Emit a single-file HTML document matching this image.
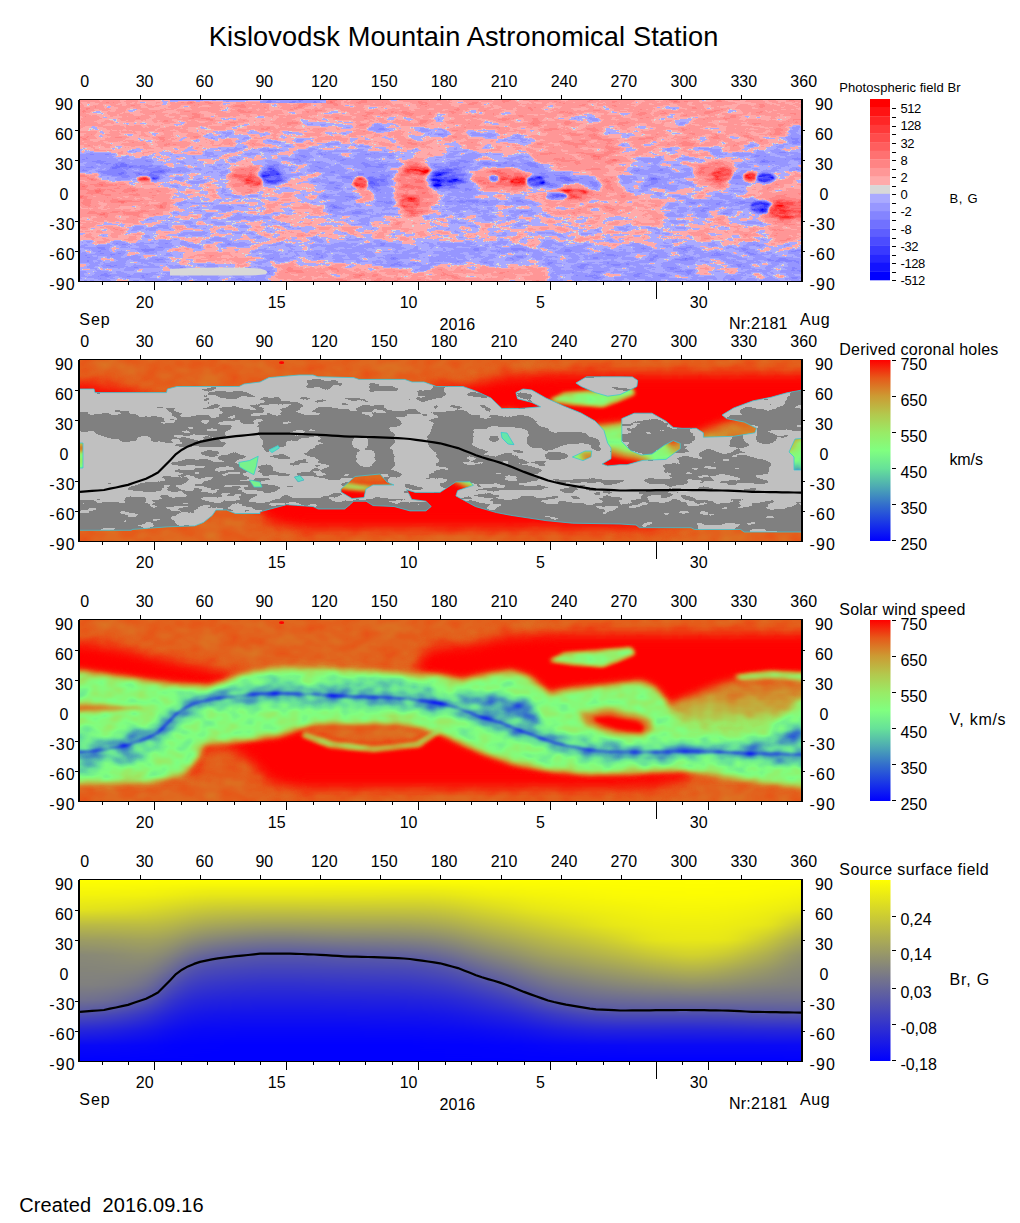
<!DOCTYPE html>
<html><head><meta charset="utf-8"><title>Kislovodsk Mountain Astronomical Station</title>
<style>
html,body{margin:0;padding:0;background:#fff;}
svg{display:block;font-family:'Liberation Sans',sans-serif;}
text{fill:#000;font-family:'Liberation Sans',sans-serif;}
</style></head><body>
<svg width="1020" height="1223" viewBox="0 0 1020 1223">
<rect width="1020" height="1223" fill="#fff"/>

<svg x="80" y="100" width="721" height="181" viewBox="0 0 721 181" preserveAspectRatio="none" overflow="hidden">
<defs>
<linearGradient id="p1base" gradientUnits="userSpaceOnUse" x1="0" y1="0" x2="0" y2="181">
<stop offset="0" stop-color="#999999"/><stop offset="0.24" stop-color="#969696"/><stop offset="0.31" stop-color="#838383"/>
<stop offset="0.75" stop-color="#858585"/><stop offset="0.80" stop-color="#696969"/><stop offset="1" stop-color="#676767"/>
</linearGradient>
<filter id="p1f" x="0" y="0" width="100%" height="100%" color-interpolation-filters="sRGB">
<feTurbulence type="fractalNoise" baseFrequency="0.065 0.19" numOctaves="3" seed="7" result="n"/>
<feColorMatrix in="n" type="matrix" values="1 0 0 0 0 1 0 0 0 0 1 0 0 0 0 0 0 0 0 1" result="ng"/>
<feComposite in="SourceGraphic" in2="ng" operator="arithmetic" k1="0" k2="1" k3="0.44" k4="-0.22" result="f"/>
<feComponentTransfer in="f"><feFuncR type="discrete" tableValues="0 0 0.07 0.07 0.15 0.15 0.15 0.22 0.22 0.22 0.3 0.3 0.3 0.3 0.37 0.37 0.37 0.37 0.37 0.44 0.44 0.44 0.44 0.44 0.44 0.52 0.52 0.52 0.52 0.52 0.52 0.52 0.52 0.59 0.59 0.59 0.59 0.59 0.59 0.59 0.59 0.59 0.59 0.67 0.67 0.67 0.67 0.67 0.67 0.67 0.85 1 1 1 1 1 1 1 1 1 1 1 1 1 1 1 1 1 1 1 1 1 1 1 1 1 1 1 1 1 1 1 1 1 1 1 1 1 1 1 1 1 1 1 1 1 1 1 1 1 1"/><feFuncG type="discrete" tableValues="0 0 0.07 0.07 0.15 0.15 0.15 0.22 0.22 0.22 0.3 0.3 0.3 0.3 0.37 0.37 0.37 0.37 0.37 0.44 0.44 0.44 0.44 0.44 0.44 0.52 0.52 0.52 0.52 0.52 0.52 0.52 0.52 0.59 0.59 0.59 0.59 0.59 0.59 0.59 0.59 0.59 0.59 0.67 0.67 0.67 0.67 0.67 0.67 0.67 0.85 0.67 0.67 0.67 0.67 0.67 0.67 0.67 0.59 0.59 0.59 0.59 0.59 0.59 0.59 0.59 0.59 0.59 0.52 0.52 0.52 0.52 0.52 0.52 0.52 0.52 0.44 0.44 0.44 0.44 0.44 0.44 0.37 0.37 0.37 0.37 0.37 0.3 0.3 0.3 0.3 0.22 0.22 0.22 0.15 0.15 0.15 0.07 0.07 0 0"/><feFuncB type="discrete" tableValues="1 1 1 1 1 1 1 1 1 1 1 1 1 1 1 1 1 1 1 1 1 1 1 1 1 1 1 1 1 1 1 1 1 1 1 1 1 1 1 1 1 1 1 1 1 1 1 1 1 1 0.85 0.67 0.67 0.67 0.67 0.67 0.67 0.67 0.59 0.59 0.59 0.59 0.59 0.59 0.59 0.59 0.59 0.59 0.52 0.52 0.52 0.52 0.52 0.52 0.52 0.52 0.44 0.44 0.44 0.44 0.44 0.44 0.37 0.37 0.37 0.37 0.37 0.3 0.3 0.3 0.3 0.22 0.22 0.22 0.15 0.15 0.15 0.07 0.07 0 0"/></feComponentTransfer>
</filter>
</defs><g filter="url(#p1f)"><g id="p1field"><rect x="-30" y="-30" width="781" height="241" fill="url(#p1base)"/>
<g filter="url(#b6)"><ellipse cx="16.7649" cy="132.354" rx="35.5" ry="10.1" fill="#919191"/><ellipse cx="178.237" cy="110.295" rx="103.5" ry="35.5" fill="#868686"/><ellipse cx="257.65" cy="60.0007" rx="69.0" ry="14.2" fill="#666666"/><ellipse cx="142.943" cy="67.942" rx="62.9" ry="17.3" fill="#747474"/><ellipse cx="280.592" cy="93.5305" rx="42.6" ry="28.4" fill="#616161"/><ellipse cx="68.8243" cy="114.707" rx="26.4" ry="14.2" fill="#636363"/><ellipse cx="138.531" cy="119.119" rx="51.8" ry="25.4" fill="#777777"/><ellipse cx="330.004" cy="129.707" rx="30.4" ry="11.2" fill="#919191"/><ellipse cx="171.178" cy="37.0593" rx="62.9" ry="18.3" fill="#939393"/><ellipse cx="499.798" cy="76.0927" rx="50.9" ry="46.8" fill="#a3a3a3"/><ellipse cx="528.112" cy="120.333" rx="91.6" ry="24.4" fill="#959595"/><ellipse cx="701.532" cy="110.6" rx="30.5" ry="35.6" fill="#9e9e9e"/><ellipse cx="376.811" cy="73.7922" rx="27.5" ry="21.8" fill="#545454"/><ellipse cx="406.01" cy="107.592" rx="61.1" ry="14.7" fill="#6b6b6b"/><ellipse cx="574.121" cy="76.9775" rx="38.7" ry="14.0" fill="#666666"/><ellipse cx="694.454" cy="59.2815" rx="38.7" ry="12.0" fill="#616161"/><ellipse cx="641.366" cy="115.024" rx="59.0" ry="19.1" fill="#616161"/><ellipse cx="480.333" cy="130.065" rx="146.5" ry="13.2" fill="#808080"/><ellipse cx="643.136" cy="129.181" rx="40.7" ry="14.2" fill="#8f8f8f"/></g>
<g filter="url(#b3)"><polygon points="-14.1178,68.8243 42.3534,74.8244 88.2363,84.001 92.4717,116.472 42.3534,124.237 -14.1178,120.707" fill="#9e9e9e" /><polygon points="-14.1178,52.2359 42.3534,55.7654 88.9422,66.3537 88.9422,84.001 42.3534,76.2362 -14.1178,70.5891" fill="#5e5e5e" /><polygon points="398.931,61.9359 448.48,56.6271 466.176,69.0143 515.725,76.0927 522.803,88.4799 466.176,90.6034 444.941,76.4466 402.47,70.7839" fill="#4f4f4f" /><polygon points="190.59,165.884 218.826,160.59 282.356,165.884 367.063,172.943 367.063,190.59 197.649,190.59" fill="#9c9c9c" /><polygon points="352.922,165.634 466.176,164.573 469.715,191.117 352.922,191.117" fill="#999999" /><ellipse cx="19.412" cy="86.4716" rx="34.5" ry="15.0" fill="#ababab"/><ellipse cx="51.53" cy="72.3538" rx="34.9" ry="8.5" fill="#454545"/><ellipse cx="167.649" cy="77.648" rx="19.1" ry="13.0" fill="#bdbdbd"/><ellipse cx="335.298" cy="88.2363" rx="21.1" ry="29.2" fill="#b8b8b8"/><ellipse cx="285.886" cy="97.06" rx="8.9" ry="11.0" fill="#a3a3a3"/><ellipse cx="191.473" cy="75.8832" rx="15.2" ry="10.1" fill="#3d3d3d"/><ellipse cx="295.945" cy="82.0598" rx="13.6" ry="7.9" fill="#404040"/><ellipse cx="357.357" cy="79.4127" rx="11.2" ry="11.0" fill="#333333"/><ellipse cx="422.29" cy="78.7471" rx="30.9" ry="12.0" fill="#bdbdbd"/><ellipse cx="492.72" cy="92.9039" rx="19.1" ry="7.9" fill="#c2c2c2"/><ellipse cx="636.057" cy="73.4383" rx="21.2" ry="12.0" fill="#bdbdbd"/><ellipse cx="704.187" cy="109.715" rx="27.5" ry="13.0" fill="#c7c7c7"/><ellipse cx="659.062" cy="78.7471" rx="11.0" ry="7.9" fill="#4f4f4f"/><ellipse cx="367.432" cy="78.7471" rx="16.7" ry="10.0" fill="#383838"/><ellipse cx="573.237" cy="80.8706" rx="7.1" ry="3.5" fill="#383838"/><ellipse cx="150.002" cy="34.9416" rx="30.4" ry="3.7" fill="#696969"/><ellipse cx="201.179" cy="40.9417" rx="28.4" ry="3.2" fill="#696969"/><ellipse cx="165.884" cy="51.53" rx="36.5" ry="3.2" fill="#696969"/><ellipse cx="247.062" cy="24.7062" rx="24.4" ry="4.1" fill="#696969"/><ellipse cx="303.533" cy="29.118" rx="16.2" ry="5.1" fill="#696969"/><ellipse cx="344.122" cy="33.5298" rx="18.3" ry="4.1" fill="#696969"/><ellipse cx="506.877" cy="18.2269" rx="14.2" ry="3.1" fill="#636363"/><ellipse cx="597.126" cy="22.12" rx="12.2" ry="3.5" fill="#636363"/><ellipse cx="408.664" cy="35.392" rx="17.3" ry="4.5" fill="#636363"/><ellipse cx="438.747" cy="40.7008" rx="15.3" ry="4.5" fill="#636363"/><ellipse cx="544.038" cy="33.4454" rx="20.4" ry="2.6" fill="#696969"/><ellipse cx="361.77" cy="30.0832" rx="6.1" ry="10.2" fill="#666666"/><ellipse cx="636.057" cy="52.2031" rx="8.1" ry="5.5" fill="#636363"/><ellipse cx="715.689" cy="38.0464" rx="10.2" ry="9.6" fill="#636363"/><ellipse cx="134.119" cy="157.061" rx="48.7" ry="10.1" fill="#8f8f8f"/><ellipse cx="634.288" cy="168.997" rx="22.4" ry="5.1" fill="#949494"/><ellipse cx="678.882" cy="173.421" rx="8.5" ry="4.1" fill="#949494"/></g>
<g filter="url(#b1)"><ellipse cx="73.0597" cy="77.295" rx="7.0" ry="3.0" fill="#1a1a1a"/><ellipse cx="64.236" cy="79.0598" rx="7.0" ry="2.6" fill="#f5f5f5"/><ellipse cx="173.649" cy="81.1774" rx="8.9" ry="5.9" fill="#e0e0e0"/><ellipse cx="191.473" cy="76.2362" rx="10.2" ry="7.4" fill="#242424"/><ellipse cx="336.71" cy="70.5891" rx="13.3" ry="5.9" fill="#dbdbdb"/><ellipse cx="330.004" cy="102.354" rx="10.0" ry="8.2" fill="#dbdbdb"/><ellipse cx="280.592" cy="82.9422" rx="7.8" ry="5.9" fill="#ebebeb"/><ellipse cx="295.945" cy="82.5892" rx="8.7" ry="5.6" fill="#2b2b2b"/><ellipse cx="357.357" cy="79.4127" rx="6.5" ry="8.2" fill="#1a1a1a"/><ellipse cx="438.57" cy="81.4015" rx="8.9" ry="4.8" fill="#fafafa"/><ellipse cx="421.936" cy="76.0927" rx="9.3" ry="4.1" fill="#d9d9d9"/><ellipse cx="414.15" cy="78.7471" rx="4.8" ry="3.2" fill="#404040"/><ellipse cx="455.735" cy="81.4015" rx="9.5" ry="5.9" fill="#0f0f0f"/><ellipse cx="493.605" cy="93.0809" rx="13.9" ry="4.8" fill="#dbdbdb"/><ellipse cx="476.793" cy="95.9122" rx="11.1" ry="3.7" fill="#2e2e2e"/><ellipse cx="642.428" cy="73.9692" rx="10.4" ry="7.1" fill="#d9d9d9"/><ellipse cx="670.388" cy="76.9775" rx="7.1" ry="5.0" fill="#f0f0f0"/><ellipse cx="685.606" cy="77.8623" rx="9.7" ry="4.8" fill="#0f0f0f"/><ellipse cx="681.89" cy="107.061" rx="11.7" ry="6.9" fill="#1a1a1a"/><ellipse cx="706.841" cy="110.246" rx="18.6" ry="8.7" fill="#e0e0e0"/><ellipse cx="368.848" cy="78.7471" rx="9.3" ry="6.5" fill="#262626"/></g>
<g filter="url(#b2)"><rect x="-10" y="-10" width="99.5" height="54" fill="#939393"/><rect x="-10" y="146" width="99.5" height="44" fill="#6b6b6b"/></g>
<rect x="180" y="-2" width="66" height="5" fill="#616161"/><rect x="90" y="-2" width="90" height="3.5" fill="#616161"/></g></g><path d="M90,175.5 L90,169 Q140,166.5 180,168.5 Q190,171 186,174 Q175,176 160,175.5 Z" fill="#d8d8d8"/>
</svg>
<svg x="80" y="360" width="721" height="181" viewBox="0 0 721 181" preserveAspectRatio="none" overflow="hidden">
<defs><clipPath id="p2clip"><path d="M-5,29 L14,29 L15,32.6 L86.5,32.6 L87.4,29 L97,26.5 L159,26.5 L164,24 L180,22 L189,17.6 L219,15 L233,15 L238,16.8 L273.5,17.6 L279,19.4 L324.7,19.4 L332,22 L344,22 L356.5,26.5 L383,26.5 L395.3,30.9 L411,38 L421.8,48.5 L439.4,48.5 L460.6,46.8 L451.8,42.4 L437.6,38.8 L435.9,32.6 L443,29 L451.8,30 L465.9,38 L483.5,45.9 L501,53 L515,60.9 L524,70.6 L527.6,83 L531,88 L531,98.8 L522,104 L527.6,105.9 L540,104.7 L547,104.7 L563,100.3 L586,99.4 L600.3,88.7 L600.3,83.4 L593.2,80.7 L584.4,85.2 L572,94 L561.3,95 L550.6,90.5 L541.8,81.6 L541.8,58.6 L554.2,53.2 L572,53.2 L586,61.2 L593.2,67.4 L602,68.3 L616.3,68.3 L623.4,72.8 L623.4,77.2 L653.6,76.3 L674.9,72.8 L676.6,68.3 L664.2,62 L646.5,58.6 L642,55 L653.6,48 L673,40.8 L690.8,37.3 L706.8,32.8 L726,29.3 L726,78 L715,79 L709,92 L714,97 L714,110 L726,110 L726,172 L664.2,172 L660.7,169.5 L614.5,169.5 L611,167.7 L559.5,167.7 L556,165 L540,164 L492.4,163.2 L465.9,160.6 L430.6,155.3 L416.5,152.6 L395.3,146.5 L375.9,135.9 L377.6,130.6 L393.5,125.3 L390,121.8 L375.9,121.8 L360,132.4 L335.3,132.4 L326.5,129.7 L328.2,132.4 L331.8,139.4 L345.9,141.2 L351.2,146.5 L345.9,150.9 L330,150.9 L314,146.5 L293,145.6 L286,141.2 L273.5,141.2 L270,144.7 L264.7,149 L238.2,149 L233,146.5 L206.5,144.7 L180,151.8 L180,153.5 L155.3,153.5 L146.5,150 L135.9,150 L132.4,155.3 L123.5,162.4 L114.7,165.9 L88.2,166.8 L53,169.4 L51,170.3 L-5,170.3ZM495.9,23 L506.5,16.8 L540,16.8 L552.4,16.9 L557.7,20.4 L556.9,26.6 L540,34.6 L527.6,36.2 L515.3,32.6 L501.2,26.5ZM158.8,102.4 L169.4,100.6 L178.2,96.2 L176.5,105.9 L173.8,114.7 L164,109.4 L159.7,106.8ZM169.4,120 L180,122 L182,127 L174,127ZM261,129 L275,116.5 L300,114 L307,122 L314,125 L293,125 L286,129 L284,137.6 L272,138.5 L261,132ZM189,90 L198,85.6 L199.4,88 L192,92.6ZM214.4,117 L220,115.6 L224,120 L218,121.8ZM421,72.4 L427,73 L434,84.7 L428,84 L422,78ZM492.4,97 L505,91 L511.8,91 L511,97 L503,100.6ZM-5,83 L3,83 L3,108 L-5,108Z" clip-rule="evenodd"/></clipPath>
<filter id="p2f" x="0" y="0" width="100%" height="100%" color-interpolation-filters="sRGB">
<feTurbulence type="fractalNoise" baseFrequency="0.05 0.16" numOctaves="2" seed="7" result="n"/>
<feColorMatrix in="n" type="matrix" values="1 0 0 0 0 1 0 0 0 0 1 0 0 0 0 0 0 0 0 1" result="ng"/>
<feComposite in="SourceGraphic" in2="ng" operator="arithmetic" k1="0" k2="1" k3="0.36" k4="-0.165" result="f"/>
<feComponentTransfer in="f"><feFuncR type="discrete" tableValues="0.502 0.753"/><feFuncG type="discrete" tableValues="0.502 0.753"/><feFuncB type="discrete" tableValues="0.502 0.753"/></feComponentTransfer>
</filter></defs>
<g filter="url(#rainbow)"><use href="#p3field"/></g>
<g clip-path="url(#p2clip)"><g filter="url(#p2f)"><use href="#p1field"/></g></g>
<path d="M158.8,102.4 L169.4,100.6 L178.2,96.2 L176.5,105.9 L173.8,114.7 L164,109.4 L159.7,106.8Z" fill="#78f28c"/>
<path d="M169.4,120 L180,122 L182,127 L174,127Z" fill="#78f28c"/>
<path d="M189,90 L198,85.6 L199.4,88 L192,92.6Z" fill="#5fdcc0"/>
<path d="M214.4,117 L220,115.6 L224,120 L218,121.8Z" fill="#5fdcc0"/>
<path d="M421,72.4 L427,73 L434,84.7 L428,84 L422,78Z" fill="#66e6a8"/>
<path d="M-5,29 L14,29 L15,32.6 L86.5,32.6 L87.4,29 L97,26.5 L159,26.5 L164,24 L180,22 L189,17.6 L219,15 L233,15 L238,16.8 L273.5,17.6 L279,19.4 L324.7,19.4 L332,22 L344,22 L356.5,26.5 L383,26.5 L395.3,30.9 L411,38 L421.8,48.5 L439.4,48.5 L460.6,46.8 L451.8,42.4 L437.6,38.8 L435.9,32.6 L443,29 L451.8,30 L465.9,38 L483.5,45.9 L501,53 L515,60.9 L524,70.6 L527.6,83 L531,88 L531,98.8 L522,104 L527.6,105.9 L540,104.7 L547,104.7 L563,100.3 L586,99.4 L600.3,88.7 L600.3,83.4 L593.2,80.7 L584.4,85.2 L572,94 L561.3,95 L550.6,90.5 L541.8,81.6 L541.8,58.6 L554.2,53.2 L572,53.2 L586,61.2 L593.2,67.4 L602,68.3 L616.3,68.3 L623.4,72.8 L623.4,77.2 L653.6,76.3 L674.9,72.8 L676.6,68.3 L664.2,62 L646.5,58.6 L642,55 L653.6,48 L673,40.8 L690.8,37.3 L706.8,32.8 L726,29.3 L726,78 L715,79 L709,92 L714,97 L714,110 L726,110 L726,172 L664.2,172 L660.7,169.5 L614.5,169.5 L611,167.7 L559.5,167.7 L556,165 L540,164 L492.4,163.2 L465.9,160.6 L430.6,155.3 L416.5,152.6 L395.3,146.5 L375.9,135.9 L377.6,130.6 L393.5,125.3 L390,121.8 L375.9,121.8 L360,132.4 L335.3,132.4 L326.5,129.7 L328.2,132.4 L331.8,139.4 L345.9,141.2 L351.2,146.5 L345.9,150.9 L330,150.9 L314,146.5 L293,145.6 L286,141.2 L273.5,141.2 L270,144.7 L264.7,149 L238.2,149 L233,146.5 L206.5,144.7 L180,151.8 L180,153.5 L155.3,153.5 L146.5,150 L135.9,150 L132.4,155.3 L123.5,162.4 L114.7,165.9 L88.2,166.8 L53,169.4 L51,170.3 L-5,170.3ZM495.9,23 L506.5,16.8 L540,16.8 L552.4,16.9 L557.7,20.4 L556.9,26.6 L540,34.6 L527.6,36.2 L515.3,32.6 L501.2,26.5ZM158.8,102.4 L169.4,100.6 L178.2,96.2 L176.5,105.9 L173.8,114.7 L164,109.4 L159.7,106.8ZM169.4,120 L180,122 L182,127 L174,127ZM261,129 L275,116.5 L300,114 L307,122 L314,125 L293,125 L286,129 L284,137.6 L272,138.5 L261,132ZM189,90 L198,85.6 L199.4,88 L192,92.6ZM214.4,117 L220,115.6 L224,120 L218,121.8ZM421,72.4 L427,73 L434,84.7 L428,84 L422,78ZM492.4,97 L505,91 L511.8,91 L511,97 L503,100.6ZM-5,83 L3,83 L3,108 L-5,108Z" fill="none" stroke="#39c6d8" stroke-width="0.9" stroke-opacity="0.85"/>
<path d="M0.0,131.8 L6.0,131.4 L12.0,130.9 L18.0,130.5 L24.0,130.0 L30.0,128.7 L36.0,127.5 L42.0,126.2 L48.0,124.9 L54.0,122.8 L60.0,120.8 L66.0,118.7 L72.0,115.7 L78.0,112.5 L84.0,106.5 L90.0,100.4 L96.0,94.1 L102.0,89.7 L108.0,86.4 L114.0,83.9 L120.0,81.9 L126.0,80.6 L132.0,79.3 L138.0,78.3 L144.0,77.6 L150.0,76.9 L156.0,76.2 L162.0,75.6 L168.0,75.0 L174.0,74.3 L180.0,73.7 L186.0,73.6 L192.0,73.6 L198.0,73.6 L204.0,73.6 L210.0,73.6 L216.0,73.8 L222.0,74.0 L228.0,74.3 L234.0,74.5 L240.0,74.9 L246.0,75.2 L252.0,75.6 L258.0,75.9 L264.0,76.3 L270.0,76.6 L276.0,76.7 L282.0,76.8 L288.0,77.0 L294.0,77.1 L300.0,77.3 L306.0,77.6 L312.0,77.9 L318.0,78.2 L324.0,78.5 L330.0,79.0 L336.0,79.8 L342.0,80.7 L348.0,81.5 L354.0,82.3 L360.0,83.3 L366.0,84.9 L372.0,86.5 L378.0,88.1 L384.0,90.5 L390.0,92.8 L396.0,95.2 L402.0,97.3 L408.0,99.1 L414.0,100.8 L420.0,102.6 L426.0,104.7 L432.0,107.1 L438.0,109.5 L444.0,111.9 L450.0,114.1 L456.0,116.3 L462.0,118.4 L468.0,120.5 L474.0,122.0 L480.0,123.3 L486.0,124.6 L492.0,125.6 L498.0,126.7 L504.0,127.7 L510.0,128.7 L516.0,129.4 L522.0,129.6 L528.0,129.9 L534.0,130.2 L540.0,130.5 L546.0,130.5 L552.0,130.4 L558.0,130.4 L564.0,130.3 L570.0,130.3 L576.0,130.2 L582.0,130.2 L588.0,130.1 L594.0,130.1 L600.0,130.0 L606.0,130.0 L612.0,130.1 L618.0,130.2 L624.0,130.2 L630.0,130.3 L636.0,130.4 L642.0,130.5 L648.0,130.6 L654.0,130.9 L660.0,131.2 L666.0,131.5 L672.0,131.8 L678.0,131.9 L684.0,132.0 L690.0,132.1 L696.0,132.2 L702.0,132.3 L708.0,132.4 L714.0,132.5 L720.0,132.6 L726.0,132.6" fill="none" stroke="#000" stroke-width="2.2" stroke-linejoin="round"/>
</svg>
<svg x="80" y="620" width="721" height="181" viewBox="0 0 721 181" preserveAspectRatio="none" overflow="hidden">
<defs>
<filter id="b1" x="-10%" y="-30%" width="120%" height="160%" color-interpolation-filters="sRGB"><feGaussianBlur stdDeviation="1.2"/></filter>
<filter id="b4" x="-10%" y="-30%" width="120%" height="160%" color-interpolation-filters="sRGB"><feGaussianBlur stdDeviation="4"/></filter>
<filter id="b6" x="-10%" y="-30%" width="120%" height="160%" color-interpolation-filters="sRGB"><feGaussianBlur stdDeviation="6.5"/></filter>
<filter id="b2" x="-10%" y="-30%" width="120%" height="160%" color-interpolation-filters="sRGB"><feGaussianBlur stdDeviation="2"/></filter>
<filter id="b3" x="-10%" y="-30%" width="120%" height="160%" color-interpolation-filters="sRGB"><feGaussianBlur stdDeviation="3"/></filter>
<filter id="b5" x="-10%" y="-30%" width="120%" height="160%" color-interpolation-filters="sRGB"><feGaussianBlur stdDeviation="5"/></filter>
<linearGradient id="p3rg" gradientUnits="userSpaceOnUse" x1="0" y1="58" x2="0" y2="116"><stop offset="0" stop-color="#e0e0e0"/><stop offset="0.3" stop-color="#d4d4d4"/><stop offset="0.55" stop-color="#bfbfbf"/><stop offset="0.83" stop-color="#9e9e9e"/><stop offset="1" stop-color="#858585"/></linearGradient>
<filter id="rainbow" x="0" y="0" width="100%" height="100%" color-interpolation-filters="sRGB">
<feTurbulence type="fractalNoise" baseFrequency="0.05 0.075" numOctaves="2" seed="11" result="n"/>
<feColorMatrix in="n" type="matrix" values="1 0 0 0 0 1 0 0 0 0 1 0 0 0 0 0 0 0 0 1" result="ng"/>
<feComposite in="SourceGraphic" in2="ng" operator="arithmetic" k1="-0.6" k2="1.3" k3="0.6" k4="-0.3" result="f"/>
<feComponentTransfer in="f"><feFuncR type="table" tableValues="0 0.5 1"/><feFuncG type="table" tableValues="0 0.216 0.431 0.667 0.882 1 0.922 0.784 0.608 0.353 0"/><feFuncB type="table" tableValues="1 0.5 0"/></feComponentTransfer>
</filter>
</defs><g filter="url(#rainbow)"><g id="p3field"><rect x="-20" y="-20" width="761" height="221" fill="#fff"/>
<g filter="url(#b6)"><polygon points="-30,-30 751,-30 751,13 600,13 540,13 470,13 420,17 390,24 350,27 338,40 335,60 170,60 140,50 90,40 40,28 0,22 -30,22" fill="#e2e2e2" /><polygon points="-30,211 -30,150 120,150 122,128 140,127 160,134 176,148 190,163 215,169 247,169 360,169 540,169 580,167 600,163 620,150 751,150 751,211" fill="#e2e2e2" /></g>
<g filter="url(#b4)">
<polygon points="586,86 608,77 636,65 661,58 693,54 735,54 735,120 586,120" fill="url(#p3rg)"/>
</g>
<g filter="url(#b5)"><polygon points="-12,53 0,53 35,58 71,63.5 106,67 131,69 148,62 166,55 184,51 212,49.5 247,51 282,53 318,55 339,56.5 360,57 381,62 406,56.6 431,53 448.5,58.4 462.7,70.8 469.7,76 480,72.6 508.7,69 544,65.5 561.8,63.7 576,70.8 586.5,85 592,100 615,111 650,113 685,108 705,96 721,80 735,76 735,163 721,163 678.6,159 643,154 622,150.4 600.7,147 572,148.7 537,150.4 501.6,150.4 466,147 431,140 406,131 381,120 360,109.5 339,106 318,102.4 233,102.4 219,106 198,113 159,118 122,122 115,138 102,152 70.6,159 0,160.6 -12,160.6" fill="#9e9e9e" /></g>
<g filter="url(#b3)" transform="translate(0,1)"><polygon points="-12,53 0,53 35,58 71,63.5 106,67 131,69 148,62 166,55 184,51 212,49.5 247,51 282,53 318,55 339,56.5 360,57 381,62 406,56.6 431,53 448.5,58.4 462.7,70.8 469.7,76 480,72.6 508.7,69 544,65.5 561.8,63.7 576,70.8 586.5,85 592,100 615,111 650,113 685,108 705,96 721,80 735,76 735,163 721,163 678.6,159 643,154 622,150.4 600.7,147 572,148.7 537,150.4 501.6,150.4 466,147 431,140 406,131 381,120 360,109.5 339,106 318,102.4 233,102.4 219,106 198,113 159,118 122,122 115,138 102,152 70.6,159 0,160.6 -12,160.6" fill="#858585" /></g>
<g filter="url(#b2)">
<polygon points="469.7,40.7 484,33.6 530,30 551,28.3 554.7,33.6 537,40.7 522.8,46 494.5,44" fill="#858585" />
<polygon points="655,56 690,52 735,54 735,60 690,58 660,59" fill="#8c8c8c" />
<polygon points="226,111 254,121.5 293,126 335,122 353,112 362,105 362,110 340,126 293,131 250,127 222,116" fill="#9e9e9e" />
</g>
<g filter="url(#b3)">
<polygon points="498,92 530,88 570,98 575,108 565,117 530,114 505,106" fill="#dbdbdb" />
</g><g filter="url(#b2)">
<polygon points="512,97 530,95.6 558,101 565,106 562,113 537,110 516,102.7" fill="#ffffff" />
<polygon points="-12,83 30,84.5 75,88 30,91.5 -12,93" fill="#d6d6d6" />
</g>
<g filter="url(#b3)"><polygon points="222,109 240,105 318,105 350,111 335,121 293,125 254,120 228,114" fill="#e0e0e0" /></g>
<g filter="url(#b5)">
<polygon points="185,60 300,58 345,66 350,78 180,77" fill="#616161" />
<polygon points="377.6,77.6 413,74 444.7,79.4 455.3,91.8 458.8,105.9 435.9,107.6 395.3,95.3 370.6,83" fill="#383838" />
<polygon points="661,132.7 689,113 735,100 735,146 678.6,141" fill="#4c4c4c" />
<polygon points="-12,118 60,112 95,112 80,128 40,145 -12,152" fill="#5c5c5c" />
</g>
<g filter="url(#b5)"><path d="M-12.0,131.8 L-6.0,131.8 L0.0,131.8 L6.0,131.4 L12.0,130.9 L18.0,130.5 L24.0,130.0 L30.0,128.7 L36.0,127.5 L42.0,126.2 L48.0,124.9 L54.0,122.8 L60.0,120.8 L66.0,118.7 L72.0,115.7 L78.0,112.5 L84.0,106.5 L90.0,100.4 L96.0,94.1 L102.0,89.7 L108.0,86.4 L114.0,83.9 L120.0,81.9 L126.0,80.6 L132.0,79.3 L138.0,78.3 L144.0,77.6 L150.0,76.9 L156.0,76.2 L162.0,75.6 L168.0,75.0 L174.0,74.3 L180.0,73.7 L186.0,73.6 L192.0,73.6 L198.0,73.6 L204.0,73.6 L210.0,73.6 L216.0,73.8 L222.0,74.0 L228.0,74.3 L234.0,74.5 L240.0,74.9 L246.0,75.2 L252.0,75.6 L258.0,75.9 L264.0,76.3 L270.0,76.6 L276.0,76.7 L282.0,76.8 L288.0,77.0 L294.0,77.1 L300.0,77.3 L306.0,77.6 L312.0,77.9 L318.0,78.2 L324.0,78.5 L330.0,79.0 L336.0,79.8 L342.0,80.7 L348.0,81.5 L354.0,82.3 L360.0,83.3 L366.0,84.9 L372.0,86.5 L378.0,88.1 L384.0,90.5 L390.0,92.8 L396.0,95.2 L402.0,97.3 L408.0,99.1 L414.0,100.8 L420.0,102.6 L426.0,104.7 L432.0,107.1 L438.0,109.5 L444.0,112.0 L450.0,114.3 L456.0,116.5 L462.0,118.7 L468.0,120.9 L474.0,122.6 L480.0,123.9 L486.0,125.3 L492.0,126.4 L498.0,127.5 L504.0,128.6 L510.0,129.8 L516.0,130.5 L522.0,130.9 L528.0,131.3 L534.0,131.6 L540.0,132.0 L546.0,132.0 L552.0,132.1 L558.0,132.1 L564.0,132.1 L570.0,132.1 L576.0,132.0 L582.0,132.0 L588.0,131.9 L594.0,131.9 L600.0,131.8 L606.0,131.8 L612.0,131.9 L618.0,132.0 L624.0,132.0 L630.0,132.1 L636.0,132.2 L642.0,132.3 L648.0,132.4 L654.0,132.7 L660.0,133.0 L666.0,133.3 L672.0,133.6 L678.0,133.7 L684.0,133.8 L690.0,133.9 L696.0,134.0 L702.0,134.1 L708.0,134.2 L714.0,134.3 L720.0,134.4 L726.0,134.4 L732.0,134.4 L738.0,134.4" fill="none" stroke="#666666" stroke-width="20"/></g>
<g filter="url(#b3)"><path d="M-12.0,131.8 L-6.0,131.8 L0.0,131.8 L6.0,131.4 L12.0,130.9 L18.0,130.5 L24.0,130.0 L30.0,128.7 L36.0,127.5 L42.0,126.2 L48.0,124.9 L54.0,122.8 L60.0,120.8 L66.0,118.7 L72.0,115.7 L78.0,112.5 L84.0,106.5 L90.0,100.4 L96.0,94.1 L102.0,89.7 L108.0,86.4 L114.0,83.9 L120.0,81.9 L126.0,80.6 L132.0,79.3 L138.0,78.3 L144.0,77.6 L150.0,76.9 L156.0,76.2 L162.0,75.6 L168.0,75.0 L174.0,74.3 L180.0,73.7 L186.0,73.6 L192.0,73.6 L198.0,73.6 L204.0,73.6 L210.0,73.6 L216.0,73.8 L222.0,74.0 L228.0,74.3 L234.0,74.5 L240.0,74.9 L246.0,75.2 L252.0,75.6 L258.0,75.9 L264.0,76.3 L270.0,76.6 L276.0,76.7 L282.0,76.8 L288.0,77.0 L294.0,77.1 L300.0,77.3 L306.0,77.6 L312.0,77.9 L318.0,78.2 L324.0,78.5 L330.0,79.0 L336.0,79.8 L342.0,80.7 L348.0,81.5 L354.0,82.3 L360.0,83.3 L366.0,84.9 L372.0,86.5 L378.0,88.1 L384.0,90.5 L390.0,92.8 L396.0,95.2 L402.0,97.3 L408.0,99.1 L414.0,100.8 L420.0,102.6 L426.0,104.7 L432.0,107.1 L438.0,109.5 L444.0,112.0 L450.0,114.3 L456.0,116.5 L462.0,118.7 L468.0,120.9 L474.0,122.6 L480.0,123.9 L486.0,125.3 L492.0,126.4 L498.0,127.5 L504.0,128.6 L510.0,129.8 L516.0,130.5 L522.0,130.9 L528.0,131.3 L534.0,131.6 L540.0,132.0 L546.0,132.0 L552.0,132.1 L558.0,132.1 L564.0,132.1 L570.0,132.1 L576.0,132.0 L582.0,132.0 L588.0,131.9 L594.0,131.9 L600.0,131.8 L606.0,131.8 L612.0,131.9 L618.0,132.0 L624.0,132.0 L630.0,132.1 L636.0,132.2 L642.0,132.3 L648.0,132.4 L654.0,132.7 L660.0,133.0 L666.0,133.3 L672.0,133.6 L678.0,133.7 L684.0,133.8 L690.0,133.9 L696.0,134.0 L702.0,134.1 L708.0,134.2 L714.0,134.3 L720.0,134.4 L726.0,134.4 L732.0,134.4 L738.0,134.4" fill="none" stroke="#4a4a4a" stroke-width="11"/></g>
<g filter="url(#b1)"><path d="M-12.0,131.8 L-6.0,131.8 L0.0,131.8 L6.0,131.4 L12.0,130.9 L18.0,130.5 L24.0,130.0 L30.0,128.7 L36.0,127.5 L42.0,126.2 L48.0,124.9 L54.0,122.8 L60.0,120.8 L66.0,118.7 L72.0,115.7 L78.0,112.5 L84.0,106.5 L90.0,100.4 L96.0,94.1 L102.0,89.7 L108.0,86.4 L114.0,83.9 L120.0,81.9 L126.0,80.6 L132.0,79.3 L138.0,78.3 L144.0,77.6 L150.0,76.9 L156.0,76.2 L162.0,75.6 L168.0,75.0 L174.0,74.3 L180.0,73.7 L186.0,73.6 L192.0,73.6 L198.0,73.6 L204.0,73.6 L210.0,73.6 L216.0,73.8 L222.0,74.0 L228.0,74.3 L234.0,74.5 L240.0,74.9 L246.0,75.2 L252.0,75.6 L258.0,75.9 L264.0,76.3 L270.0,76.6 L276.0,76.7 L282.0,76.8 L288.0,77.0 L294.0,77.1 L300.0,77.3 L306.0,77.6 L312.0,77.9 L318.0,78.2 L324.0,78.5 L330.0,79.0 L336.0,79.8 L342.0,80.7 L348.0,81.5 L354.0,82.3 L360.0,83.3 L366.0,84.9 L372.0,86.5 L378.0,88.1 L384.0,90.5 L390.0,92.8 L396.0,95.2 L402.0,97.3 L408.0,99.1 L414.0,100.8 L420.0,102.6 L426.0,104.7 L432.0,107.1 L438.0,109.5 L444.0,112.0 L450.0,114.3 L456.0,116.5 L462.0,118.7 L468.0,120.9 L474.0,122.6 L480.0,123.9 L486.0,125.3 L492.0,126.4 L498.0,127.5 L504.0,128.6 L510.0,129.8 L516.0,130.5 L522.0,130.9 L528.0,131.3 L534.0,131.6 L540.0,132.0 L546.0,132.0 L552.0,132.1 L558.0,132.1 L564.0,132.1 L570.0,132.1 L576.0,132.0 L582.0,132.0 L588.0,131.9 L594.0,131.9 L600.0,131.8 L606.0,131.8 L612.0,131.9 L618.0,132.0 L624.0,132.0 L630.0,132.1 L636.0,132.2 L642.0,132.3 L648.0,132.4 L654.0,132.7 L660.0,133.0 L666.0,133.3 L672.0,133.6 L678.0,133.7 L684.0,133.8 L690.0,133.9 L696.0,134.0 L702.0,134.1 L708.0,134.2 L714.0,134.3 L720.0,134.4 L726.0,134.4 L732.0,134.4 L738.0,134.4" fill="none" stroke="#2b2b2b" stroke-width="2.8"/></g>
<ellipse cx="201.6" cy="2.7" rx="2.6" ry="1.4" fill="#fff"/></g></g>
</svg>
<svg x="80" y="880" width="721" height="181" viewBox="0 0 721 181" preserveAspectRatio="none" overflow="hidden">
<defs><linearGradient id="p4c0" x1="0" y1="0" x2="0" y2="1"><stop offset="0.000" stop-color="#ffffff"/><stop offset="0.083" stop-color="#f4f4f4"/><stop offset="0.166" stop-color="#e3e3e3"/><stop offset="0.249" stop-color="#bababa"/><stop offset="0.331" stop-color="#9c9c9c"/><stop offset="0.414" stop-color="#888888"/><stop offset="0.497" stop-color="#848484"/><stop offset="0.580" stop-color="#808080"/><stop offset="0.663" stop-color="#717171"/><stop offset="0.729" stop-color="#595959"/><stop offset="0.746" stop-color="#4f4f4f"/><stop offset="0.829" stop-color="#272727"/><stop offset="0.912" stop-color="#090909"/><stop offset="1.000" stop-color="#000000"/></linearGradient><linearGradient id="p4c1" x1="0" y1="0" x2="0" y2="1"><stop offset="0.000" stop-color="#ffffff"/><stop offset="0.083" stop-color="#f4f4f4"/><stop offset="0.166" stop-color="#e3e3e3"/><stop offset="0.249" stop-color="#bababa"/><stop offset="0.331" stop-color="#9c9c9c"/><stop offset="0.414" stop-color="#888888"/><stop offset="0.497" stop-color="#848484"/><stop offset="0.580" stop-color="#808080"/><stop offset="0.663" stop-color="#717171"/><stop offset="0.729" stop-color="#595959"/><stop offset="0.746" stop-color="#4f4f4f"/><stop offset="0.829" stop-color="#272727"/><stop offset="0.912" stop-color="#090909"/><stop offset="1.000" stop-color="#000000"/></linearGradient><linearGradient id="p4c2" x1="0" y1="0" x2="0" y2="1"><stop offset="0.000" stop-color="#ffffff"/><stop offset="0.083" stop-color="#f3f3f3"/><stop offset="0.166" stop-color="#e1e1e1"/><stop offset="0.249" stop-color="#bababa"/><stop offset="0.331" stop-color="#9d9d9d"/><stop offset="0.414" stop-color="#898989"/><stop offset="0.497" stop-color="#848484"/><stop offset="0.580" stop-color="#808080"/><stop offset="0.663" stop-color="#707070"/><stop offset="0.724" stop-color="#595959"/><stop offset="0.746" stop-color="#4d4d4d"/><stop offset="0.829" stop-color="#262626"/><stop offset="0.912" stop-color="#090909"/><stop offset="1.000" stop-color="#000000"/></linearGradient><linearGradient id="p4c3" x1="0" y1="0" x2="0" y2="1"><stop offset="0.000" stop-color="#ffffff"/><stop offset="0.083" stop-color="#f3f3f3"/><stop offset="0.166" stop-color="#dfdfdf"/><stop offset="0.249" stop-color="#bababa"/><stop offset="0.331" stop-color="#9e9e9e"/><stop offset="0.414" stop-color="#8b8b8b"/><stop offset="0.497" stop-color="#858585"/><stop offset="0.580" stop-color="#7e7e7e"/><stop offset="0.663" stop-color="#6c6c6c"/><stop offset="0.713" stop-color="#585858"/><stop offset="0.746" stop-color="#474747"/><stop offset="0.829" stop-color="#232323"/><stop offset="0.912" stop-color="#080808"/><stop offset="1.000" stop-color="#000000"/></linearGradient><linearGradient id="p4c4" x1="0" y1="0" x2="0" y2="1"><stop offset="0.000" stop-color="#ffffff"/><stop offset="0.083" stop-color="#f2f2f2"/><stop offset="0.166" stop-color="#dddddd"/><stop offset="0.249" stop-color="#bbbbbb"/><stop offset="0.331" stop-color="#a1a1a1"/><stop offset="0.414" stop-color="#8f8f8f"/><stop offset="0.497" stop-color="#858585"/><stop offset="0.580" stop-color="#797979"/><stop offset="0.663" stop-color="#636363"/><stop offset="0.685" stop-color="#5a5a5a"/><stop offset="0.746" stop-color="#3e3e3e"/><stop offset="0.829" stop-color="#1d1d1d"/><stop offset="0.912" stop-color="#060606"/><stop offset="1.000" stop-color="#000000"/></linearGradient><linearGradient id="p4c5" x1="0" y1="0" x2="0" y2="1"><stop offset="0.000" stop-color="#ffffff"/><stop offset="0.083" stop-color="#f1f1f1"/><stop offset="0.166" stop-color="#d9d9d9"/><stop offset="0.249" stop-color="#bcbcbc"/><stop offset="0.331" stop-color="#a3a3a3"/><stop offset="0.414" stop-color="#919191"/><stop offset="0.497" stop-color="#818181"/><stop offset="0.580" stop-color="#6e6e6e"/><stop offset="0.646" stop-color="#595959"/><stop offset="0.663" stop-color="#525252"/><stop offset="0.746" stop-color="#313131"/><stop offset="0.829" stop-color="#171717"/><stop offset="0.912" stop-color="#050505"/><stop offset="1.000" stop-color="#000000"/></linearGradient><linearGradient id="p4c6" x1="0" y1="0" x2="0" y2="1"><stop offset="0.000" stop-color="#ffffff"/><stop offset="0.083" stop-color="#eeeeee"/><stop offset="0.166" stop-color="#d3d3d3"/><stop offset="0.249" stop-color="#b7b7b7"/><stop offset="0.331" stop-color="#9d9d9d"/><stop offset="0.414" stop-color="#858585"/><stop offset="0.497" stop-color="#6d6d6d"/><stop offset="0.552" stop-color="#5a5a5a"/><stop offset="0.580" stop-color="#515151"/><stop offset="0.663" stop-color="#373737"/><stop offset="0.746" stop-color="#202020"/><stop offset="0.829" stop-color="#0e0e0e"/><stop offset="0.912" stop-color="#020202"/><stop offset="1.000" stop-color="#000000"/></linearGradient><linearGradient id="p4c7" x1="0" y1="0" x2="0" y2="1"><stop offset="0.000" stop-color="#ffffff"/><stop offset="0.083" stop-color="#eaeaea"/><stop offset="0.166" stop-color="#cccccc"/><stop offset="0.249" stop-color="#adadad"/><stop offset="0.331" stop-color="#8e8e8e"/><stop offset="0.414" stop-color="#6f6f6f"/><stop offset="0.475" stop-color="#595959"/><stop offset="0.497" stop-color="#525252"/><stop offset="0.580" stop-color="#3c3c3c"/><stop offset="0.663" stop-color="#282828"/><stop offset="0.746" stop-color="#171717"/><stop offset="0.829" stop-color="#090909"/><stop offset="0.912" stop-color="#010101"/><stop offset="1.000" stop-color="#000000"/></linearGradient><linearGradient id="p4c8" x1="0" y1="0" x2="0" y2="1"><stop offset="0.000" stop-color="#ffffff"/><stop offset="0.083" stop-color="#e7e7e7"/><stop offset="0.166" stop-color="#c7c7c7"/><stop offset="0.249" stop-color="#a6a6a6"/><stop offset="0.331" stop-color="#858585"/><stop offset="0.414" stop-color="#646464"/><stop offset="0.442" stop-color="#595959"/><stop offset="0.497" stop-color="#4a4a4a"/><stop offset="0.580" stop-color="#363636"/><stop offset="0.663" stop-color="#242424"/><stop offset="0.746" stop-color="#141414"/><stop offset="0.829" stop-color="#080808"/><stop offset="0.912" stop-color="#010101"/><stop offset="1.000" stop-color="#000000"/></linearGradient><linearGradient id="p4c9" x1="0" y1="0" x2="0" y2="1"><stop offset="0.000" stop-color="#ffffff"/><stop offset="0.083" stop-color="#e7e7e7"/><stop offset="0.166" stop-color="#c5c5c5"/><stop offset="0.249" stop-color="#a3a3a3"/><stop offset="0.331" stop-color="#808080"/><stop offset="0.414" stop-color="#5e5e5e"/><stop offset="0.425" stop-color="#595959"/><stop offset="0.497" stop-color="#474747"/><stop offset="0.580" stop-color="#333333"/><stop offset="0.663" stop-color="#222222"/><stop offset="0.746" stop-color="#131313"/><stop offset="0.829" stop-color="#080808"/><stop offset="0.912" stop-color="#000000"/><stop offset="1.000" stop-color="#000000"/></linearGradient><linearGradient id="p4c10" x1="0" y1="0" x2="0" y2="1"><stop offset="0.000" stop-color="#ffffff"/><stop offset="0.083" stop-color="#e7e7e7"/><stop offset="0.166" stop-color="#c4c4c4"/><stop offset="0.249" stop-color="#a0a0a0"/><stop offset="0.331" stop-color="#7c7c7c"/><stop offset="0.414" stop-color="#595959"/><stop offset="0.497" stop-color="#444444"/><stop offset="0.580" stop-color="#313131"/><stop offset="0.663" stop-color="#212121"/><stop offset="0.746" stop-color="#121212"/><stop offset="0.829" stop-color="#070707"/><stop offset="0.912" stop-color="#000000"/><stop offset="1.000" stop-color="#000000"/></linearGradient><linearGradient id="p4c11" x1="0" y1="0" x2="0" y2="1"><stop offset="0.000" stop-color="#ffffff"/><stop offset="0.083" stop-color="#e7e7e7"/><stop offset="0.166" stop-color="#c3c3c3"/><stop offset="0.249" stop-color="#9f9f9f"/><stop offset="0.331" stop-color="#7a7a7a"/><stop offset="0.409" stop-color="#595959"/><stop offset="0.414" stop-color="#575757"/><stop offset="0.497" stop-color="#434343"/><stop offset="0.580" stop-color="#303030"/><stop offset="0.663" stop-color="#202020"/><stop offset="0.746" stop-color="#121212"/><stop offset="0.829" stop-color="#070707"/><stop offset="0.912" stop-color="#000000"/><stop offset="1.000" stop-color="#000000"/></linearGradient><linearGradient id="p4c12" x1="0" y1="0" x2="0" y2="1"><stop offset="0.000" stop-color="#ffffff"/><stop offset="0.083" stop-color="#e7e7e7"/><stop offset="0.166" stop-color="#c3c3c3"/><stop offset="0.249" stop-color="#9f9f9f"/><stop offset="0.331" stop-color="#7a7a7a"/><stop offset="0.409" stop-color="#595959"/><stop offset="0.414" stop-color="#575757"/><stop offset="0.497" stop-color="#434343"/><stop offset="0.580" stop-color="#303030"/><stop offset="0.663" stop-color="#202020"/><stop offset="0.746" stop-color="#121212"/><stop offset="0.829" stop-color="#070707"/><stop offset="0.912" stop-color="#000000"/><stop offset="1.000" stop-color="#000000"/></linearGradient><linearGradient id="p4c13" x1="0" y1="0" x2="0" y2="1"><stop offset="0.000" stop-color="#ffffff"/><stop offset="0.083" stop-color="#e7e7e7"/><stop offset="0.166" stop-color="#c4c4c4"/><stop offset="0.249" stop-color="#a0a0a0"/><stop offset="0.331" stop-color="#7c7c7c"/><stop offset="0.409" stop-color="#5a5a5a"/><stop offset="0.414" stop-color="#585858"/><stop offset="0.497" stop-color="#444444"/><stop offset="0.580" stop-color="#313131"/><stop offset="0.663" stop-color="#202020"/><stop offset="0.746" stop-color="#121212"/><stop offset="0.829" stop-color="#070707"/><stop offset="0.912" stop-color="#000000"/><stop offset="1.000" stop-color="#000000"/></linearGradient><linearGradient id="p4c14" x1="0" y1="0" x2="0" y2="1"><stop offset="0.000" stop-color="#ffffff"/><stop offset="0.083" stop-color="#e7e7e7"/><stop offset="0.166" stop-color="#c4c4c4"/><stop offset="0.249" stop-color="#a1a1a1"/><stop offset="0.331" stop-color="#7e7e7e"/><stop offset="0.414" stop-color="#5a5a5a"/><stop offset="0.497" stop-color="#454545"/><stop offset="0.580" stop-color="#323232"/><stop offset="0.663" stop-color="#212121"/><stop offset="0.746" stop-color="#131313"/><stop offset="0.829" stop-color="#070707"/><stop offset="0.912" stop-color="#000000"/><stop offset="1.000" stop-color="#000000"/></linearGradient><linearGradient id="p4c15" x1="0" y1="0" x2="0" y2="1"><stop offset="0.000" stop-color="#ffffff"/><stop offset="0.083" stop-color="#e6e6e6"/><stop offset="0.166" stop-color="#c4c4c4"/><stop offset="0.249" stop-color="#a2a2a2"/><stop offset="0.331" stop-color="#7f7f7f"/><stop offset="0.414" stop-color="#5d5d5d"/><stop offset="0.425" stop-color="#595959"/><stop offset="0.497" stop-color="#464646"/><stop offset="0.580" stop-color="#333333"/><stop offset="0.663" stop-color="#222222"/><stop offset="0.746" stop-color="#131313"/><stop offset="0.829" stop-color="#070707"/><stop offset="0.912" stop-color="#000000"/><stop offset="1.000" stop-color="#000000"/></linearGradient><linearGradient id="p4c16" x1="0" y1="0" x2="0" y2="1"><stop offset="0.000" stop-color="#ffffff"/><stop offset="0.083" stop-color="#e6e6e6"/><stop offset="0.166" stop-color="#c4c4c4"/><stop offset="0.249" stop-color="#a2a2a2"/><stop offset="0.331" stop-color="#808080"/><stop offset="0.414" stop-color="#5e5e5e"/><stop offset="0.425" stop-color="#595959"/><stop offset="0.497" stop-color="#474747"/><stop offset="0.580" stop-color="#333333"/><stop offset="0.663" stop-color="#222222"/><stop offset="0.746" stop-color="#131313"/><stop offset="0.829" stop-color="#080808"/><stop offset="0.912" stop-color="#000000"/><stop offset="1.000" stop-color="#000000"/></linearGradient><linearGradient id="p4c17" x1="0" y1="0" x2="0" y2="1"><stop offset="0.000" stop-color="#ffffff"/><stop offset="0.083" stop-color="#e5e5e5"/><stop offset="0.166" stop-color="#c4c4c4"/><stop offset="0.249" stop-color="#a2a2a2"/><stop offset="0.331" stop-color="#818181"/><stop offset="0.414" stop-color="#606060"/><stop offset="0.431" stop-color="#595959"/><stop offset="0.497" stop-color="#484848"/><stop offset="0.580" stop-color="#343434"/><stop offset="0.663" stop-color="#222222"/><stop offset="0.746" stop-color="#141414"/><stop offset="0.829" stop-color="#080808"/><stop offset="0.912" stop-color="#000000"/><stop offset="1.000" stop-color="#000000"/></linearGradient><linearGradient id="p4c18" x1="0" y1="0" x2="0" y2="1"><stop offset="0.000" stop-color="#ffffff"/><stop offset="0.083" stop-color="#e4e4e4"/><stop offset="0.166" stop-color="#c4c4c4"/><stop offset="0.249" stop-color="#a3a3a3"/><stop offset="0.331" stop-color="#838383"/><stop offset="0.414" stop-color="#626262"/><stop offset="0.436" stop-color="#595959"/><stop offset="0.497" stop-color="#494949"/><stop offset="0.580" stop-color="#353535"/><stop offset="0.663" stop-color="#232323"/><stop offset="0.746" stop-color="#141414"/><stop offset="0.829" stop-color="#080808"/><stop offset="0.912" stop-color="#000000"/><stop offset="1.000" stop-color="#000000"/></linearGradient><linearGradient id="p4c19" x1="0" y1="0" x2="0" y2="1"><stop offset="0.000" stop-color="#ffffff"/><stop offset="0.083" stop-color="#e4e4e4"/><stop offset="0.166" stop-color="#c5c5c5"/><stop offset="0.249" stop-color="#a6a6a6"/><stop offset="0.331" stop-color="#868686"/><stop offset="0.414" stop-color="#676767"/><stop offset="0.453" stop-color="#595959"/><stop offset="0.497" stop-color="#4d4d4d"/><stop offset="0.580" stop-color="#383838"/><stop offset="0.663" stop-color="#252525"/><stop offset="0.746" stop-color="#151515"/><stop offset="0.829" stop-color="#090909"/><stop offset="0.912" stop-color="#010101"/><stop offset="1.000" stop-color="#000000"/></linearGradient><linearGradient id="p4c20" x1="0" y1="0" x2="0" y2="1"><stop offset="0.000" stop-color="#ffffff"/><stop offset="0.083" stop-color="#e7e7e7"/><stop offset="0.166" stop-color="#c9c9c9"/><stop offset="0.249" stop-color="#ababab"/><stop offset="0.331" stop-color="#8d8d8d"/><stop offset="0.414" stop-color="#6f6f6f"/><stop offset="0.475" stop-color="#595959"/><stop offset="0.497" stop-color="#535353"/><stop offset="0.580" stop-color="#3c3c3c"/><stop offset="0.663" stop-color="#282828"/><stop offset="0.746" stop-color="#171717"/><stop offset="0.829" stop-color="#0a0a0a"/><stop offset="0.912" stop-color="#010101"/><stop offset="1.000" stop-color="#000000"/></linearGradient><linearGradient id="p4c21" x1="0" y1="0" x2="0" y2="1"><stop offset="0.000" stop-color="#ffffff"/><stop offset="0.083" stop-color="#ebebeb"/><stop offset="0.166" stop-color="#d0d0d0"/><stop offset="0.249" stop-color="#b4b4b4"/><stop offset="0.331" stop-color="#979797"/><stop offset="0.414" stop-color="#7b7b7b"/><stop offset="0.497" stop-color="#5f5f5f"/><stop offset="0.514" stop-color="#595959"/><stop offset="0.580" stop-color="#454545"/><stop offset="0.663" stop-color="#2e2e2e"/><stop offset="0.746" stop-color="#1b1b1b"/><stop offset="0.829" stop-color="#0b0b0b"/><stop offset="0.912" stop-color="#010101"/><stop offset="1.000" stop-color="#000000"/></linearGradient><linearGradient id="p4c22" x1="0" y1="0" x2="0" y2="1"><stop offset="0.000" stop-color="#ffffff"/><stop offset="0.083" stop-color="#efefef"/><stop offset="0.166" stop-color="#d7d7d7"/><stop offset="0.249" stop-color="#bcbcbc"/><stop offset="0.331" stop-color="#a1a1a1"/><stop offset="0.414" stop-color="#868686"/><stop offset="0.497" stop-color="#6b6b6b"/><stop offset="0.552" stop-color="#595959"/><stop offset="0.580" stop-color="#4f4f4f"/><stop offset="0.663" stop-color="#363636"/><stop offset="0.746" stop-color="#202020"/><stop offset="0.829" stop-color="#0e0e0e"/><stop offset="0.912" stop-color="#020202"/><stop offset="1.000" stop-color="#000000"/></linearGradient><linearGradient id="p4c23" x1="0" y1="0" x2="0" y2="1"><stop offset="0.000" stop-color="#ffffff"/><stop offset="0.083" stop-color="#f1f1f1"/><stop offset="0.166" stop-color="#dddddd"/><stop offset="0.249" stop-color="#c3c3c3"/><stop offset="0.331" stop-color="#a9a9a9"/><stop offset="0.414" stop-color="#8f8f8f"/><stop offset="0.497" stop-color="#757575"/><stop offset="0.580" stop-color="#5c5c5c"/><stop offset="0.586" stop-color="#5a5a5a"/><stop offset="0.663" stop-color="#3f3f3f"/><stop offset="0.746" stop-color="#252525"/><stop offset="0.829" stop-color="#111111"/><stop offset="0.912" stop-color="#030303"/><stop offset="1.000" stop-color="#000000"/></linearGradient><linearGradient id="p4c24" x1="0" y1="0" x2="0" y2="1"><stop offset="0.000" stop-color="#ffffff"/><stop offset="0.083" stop-color="#f4f4f4"/><stop offset="0.166" stop-color="#e4e4e4"/><stop offset="0.249" stop-color="#cbcbcb"/><stop offset="0.331" stop-color="#b2b2b2"/><stop offset="0.414" stop-color="#9a9a9a"/><stop offset="0.497" stop-color="#818181"/><stop offset="0.580" stop-color="#686868"/><stop offset="0.630" stop-color="#595959"/><stop offset="0.663" stop-color="#4c4c4c"/><stop offset="0.746" stop-color="#2e2e2e"/><stop offset="0.829" stop-color="#151515"/><stop offset="0.912" stop-color="#040404"/><stop offset="1.000" stop-color="#000000"/></linearGradient><linearGradient id="p4c25" x1="0" y1="0" x2="0" y2="1"><stop offset="0.000" stop-color="#ffffff"/><stop offset="0.083" stop-color="#f5f5f5"/><stop offset="0.166" stop-color="#e8e8e8"/><stop offset="0.249" stop-color="#d2d2d2"/><stop offset="0.331" stop-color="#bababa"/><stop offset="0.414" stop-color="#a3a3a3"/><stop offset="0.497" stop-color="#8b8b8b"/><stop offset="0.580" stop-color="#737373"/><stop offset="0.663" stop-color="#5b5b5b"/><stop offset="0.669" stop-color="#5a5a5a"/><stop offset="0.746" stop-color="#383838"/><stop offset="0.829" stop-color="#1b1b1b"/><stop offset="0.912" stop-color="#060606"/><stop offset="1.000" stop-color="#000000"/></linearGradient><linearGradient id="p4c26" x1="0" y1="0" x2="0" y2="1"><stop offset="0.000" stop-color="#ffffff"/><stop offset="0.083" stop-color="#f7f7f7"/><stop offset="0.166" stop-color="#ebebeb"/><stop offset="0.249" stop-color="#d9d9d9"/><stop offset="0.331" stop-color="#c1c1c1"/><stop offset="0.414" stop-color="#a9a9a9"/><stop offset="0.497" stop-color="#919191"/><stop offset="0.580" stop-color="#797979"/><stop offset="0.663" stop-color="#626262"/><stop offset="0.691" stop-color="#5a5a5a"/><stop offset="0.746" stop-color="#404040"/><stop offset="0.829" stop-color="#1f1f1f"/><stop offset="0.912" stop-color="#070707"/><stop offset="1.000" stop-color="#000000"/></linearGradient><linearGradient id="p4c27" x1="0" y1="0" x2="0" y2="1"><stop offset="0.000" stop-color="#ffffff"/><stop offset="0.083" stop-color="#f8f8f8"/><stop offset="0.166" stop-color="#eeeeee"/><stop offset="0.249" stop-color="#e0e0e0"/><stop offset="0.331" stop-color="#c8c8c8"/><stop offset="0.414" stop-color="#b0b0b0"/><stop offset="0.497" stop-color="#989898"/><stop offset="0.580" stop-color="#7f7f7f"/><stop offset="0.663" stop-color="#676767"/><stop offset="0.713" stop-color="#585858"/><stop offset="0.746" stop-color="#474747"/><stop offset="0.829" stop-color="#232323"/><stop offset="0.912" stop-color="#080808"/><stop offset="1.000" stop-color="#000000"/></linearGradient><linearGradient id="p4c28" x1="0" y1="0" x2="0" y2="1"><stop offset="0.000" stop-color="#ffffff"/><stop offset="0.083" stop-color="#fafafa"/><stop offset="0.166" stop-color="#f0f0f0"/><stop offset="0.249" stop-color="#e7e7e7"/><stop offset="0.331" stop-color="#d0d0d0"/><stop offset="0.414" stop-color="#b7b7b7"/><stop offset="0.497" stop-color="#9d9d9d"/><stop offset="0.580" stop-color="#848484"/><stop offset="0.663" stop-color="#6a6a6a"/><stop offset="0.718" stop-color="#595959"/><stop offset="0.746" stop-color="#4b4b4b"/><stop offset="0.829" stop-color="#242424"/><stop offset="0.912" stop-color="#090909"/><stop offset="1.000" stop-color="#000000"/></linearGradient><linearGradient id="p4c29" x1="0" y1="0" x2="0" y2="1"><stop offset="0.000" stop-color="#ffffff"/><stop offset="0.083" stop-color="#fbfbfb"/><stop offset="0.166" stop-color="#f2f2f2"/><stop offset="0.249" stop-color="#eaeaea"/><stop offset="0.331" stop-color="#dadada"/><stop offset="0.414" stop-color="#bebebe"/><stop offset="0.497" stop-color="#a3a3a3"/><stop offset="0.580" stop-color="#888888"/><stop offset="0.663" stop-color="#6c6c6c"/><stop offset="0.718" stop-color="#5a5a5a"/><stop offset="0.746" stop-color="#4c4c4c"/><stop offset="0.829" stop-color="#252525"/><stop offset="0.912" stop-color="#090909"/><stop offset="1.000" stop-color="#000000"/></linearGradient><linearGradient id="p4c30" x1="0" y1="0" x2="0" y2="1"><stop offset="0.000" stop-color="#ffffff"/><stop offset="0.083" stop-color="#fbfbfb"/><stop offset="0.166" stop-color="#f4f4f4"/><stop offset="0.249" stop-color="#ededed"/><stop offset="0.331" stop-color="#e4e4e4"/><stop offset="0.414" stop-color="#c7c7c7"/><stop offset="0.497" stop-color="#a9a9a9"/><stop offset="0.580" stop-color="#8b8b8b"/><stop offset="0.663" stop-color="#6e6e6e"/><stop offset="0.718" stop-color="#5a5a5a"/><stop offset="0.746" stop-color="#4b4b4b"/><stop offset="0.829" stop-color="#252525"/><stop offset="0.912" stop-color="#090909"/><stop offset="1.000" stop-color="#000000"/></linearGradient><linearGradient id="p4c31" x1="0" y1="0" x2="0" y2="1"><stop offset="0.000" stop-color="#ffffff"/><stop offset="0.083" stop-color="#fcfcfc"/><stop offset="0.166" stop-color="#f5f5f5"/><stop offset="0.249" stop-color="#eeeeee"/><stop offset="0.331" stop-color="#e7e7e7"/><stop offset="0.414" stop-color="#cdcdcd"/><stop offset="0.497" stop-color="#aeaeae"/><stop offset="0.580" stop-color="#8e8e8e"/><stop offset="0.663" stop-color="#6f6f6f"/><stop offset="0.718" stop-color="#595959"/><stop offset="0.746" stop-color="#4b4b4b"/><stop offset="0.829" stop-color="#242424"/><stop offset="0.912" stop-color="#090909"/><stop offset="1.000" stop-color="#000000"/></linearGradient><linearGradient id="p4c32" x1="0" y1="0" x2="0" y2="1"><stop offset="0.000" stop-color="#ffffff"/><stop offset="0.083" stop-color="#fcfcfc"/><stop offset="0.166" stop-color="#f6f6f6"/><stop offset="0.249" stop-color="#efefef"/><stop offset="0.331" stop-color="#e8e8e8"/><stop offset="0.414" stop-color="#d3d3d3"/><stop offset="0.497" stop-color="#b2b2b2"/><stop offset="0.580" stop-color="#919191"/><stop offset="0.663" stop-color="#707070"/><stop offset="0.718" stop-color="#595959"/><stop offset="0.746" stop-color="#4b4b4b"/><stop offset="0.829" stop-color="#242424"/><stop offset="0.912" stop-color="#090909"/><stop offset="1.000" stop-color="#000000"/></linearGradient><linearGradient id="p4c33" x1="0" y1="0" x2="0" y2="1"><stop offset="0.000" stop-color="#ffffff"/><stop offset="0.083" stop-color="#fcfcfc"/><stop offset="0.166" stop-color="#f5f5f5"/><stop offset="0.249" stop-color="#efefef"/><stop offset="0.331" stop-color="#e8e8e8"/><stop offset="0.414" stop-color="#cfcfcf"/><stop offset="0.497" stop-color="#afafaf"/><stop offset="0.580" stop-color="#8f8f8f"/><stop offset="0.663" stop-color="#707070"/><stop offset="0.718" stop-color="#5a5a5a"/><stop offset="0.746" stop-color="#4b4b4b"/><stop offset="0.829" stop-color="#252525"/><stop offset="0.912" stop-color="#090909"/><stop offset="1.000" stop-color="#000000"/></linearGradient><linearGradient id="p4c34" x1="0" y1="0" x2="0" y2="1"><stop offset="0.000" stop-color="#ffffff"/><stop offset="0.083" stop-color="#fcfcfc"/><stop offset="0.166" stop-color="#f4f4f4"/><stop offset="0.249" stop-color="#ededed"/><stop offset="0.331" stop-color="#e6e6e6"/><stop offset="0.414" stop-color="#c7c7c7"/><stop offset="0.497" stop-color="#a7a7a7"/><stop offset="0.580" stop-color="#8c8c8c"/><stop offset="0.663" stop-color="#707070"/><stop offset="0.724" stop-color="#585858"/><stop offset="0.746" stop-color="#4d4d4d"/><stop offset="0.829" stop-color="#252525"/><stop offset="0.912" stop-color="#090909"/><stop offset="1.000" stop-color="#000000"/></linearGradient><linearGradient id="p4c35" x1="0" y1="0" x2="0" y2="1"><stop offset="0.000" stop-color="#ffffff"/><stop offset="0.083" stop-color="#fbfbfb"/><stop offset="0.166" stop-color="#f2f2f2"/><stop offset="0.249" stop-color="#eaeaea"/><stop offset="0.331" stop-color="#d7d7d7"/><stop offset="0.414" stop-color="#b8b8b8"/><stop offset="0.497" stop-color="#9e9e9e"/><stop offset="0.580" stop-color="#878787"/><stop offset="0.663" stop-color="#707070"/><stop offset="0.729" stop-color="#585858"/><stop offset="0.746" stop-color="#4f4f4f"/><stop offset="0.829" stop-color="#272727"/><stop offset="0.912" stop-color="#090909"/><stop offset="1.000" stop-color="#000000"/></linearGradient><linearGradient id="p4c36" x1="0" y1="0" x2="0" y2="1"><stop offset="0.000" stop-color="#ffffff"/><stop offset="0.083" stop-color="#f9f9f9"/><stop offset="0.166" stop-color="#efefef"/><stop offset="0.249" stop-color="#e5e5e5"/><stop offset="0.331" stop-color="#c6c6c6"/><stop offset="0.414" stop-color="#acacac"/><stop offset="0.497" stop-color="#969696"/><stop offset="0.580" stop-color="#848484"/><stop offset="0.663" stop-color="#6f6f6f"/><stop offset="0.729" stop-color="#595959"/><stop offset="0.746" stop-color="#505050"/><stop offset="0.829" stop-color="#272727"/><stop offset="0.912" stop-color="#0a0a0a"/><stop offset="1.000" stop-color="#000000"/></linearGradient><linearGradient id="p4c37" x1="0" y1="0" x2="0" y2="1"><stop offset="0.000" stop-color="#ffffff"/><stop offset="0.083" stop-color="#f7f7f7"/><stop offset="0.166" stop-color="#eaeaea"/><stop offset="0.249" stop-color="#cfcfcf"/><stop offset="0.331" stop-color="#b1b1b1"/><stop offset="0.414" stop-color="#999999"/><stop offset="0.497" stop-color="#8b8b8b"/><stop offset="0.580" stop-color="#818181"/><stop offset="0.663" stop-color="#707070"/><stop offset="0.729" stop-color="#5a5a5a"/><stop offset="0.746" stop-color="#515151"/><stop offset="0.829" stop-color="#282828"/><stop offset="0.912" stop-color="#0a0a0a"/><stop offset="1.000" stop-color="#000000"/></linearGradient><linearGradient id="p4c38" x1="0" y1="0" x2="0" y2="1"><stop offset="0.000" stop-color="#ffffff"/><stop offset="0.083" stop-color="#f4f4f4"/><stop offset="0.166" stop-color="#e3e3e3"/><stop offset="0.249" stop-color="#bfbfbf"/><stop offset="0.331" stop-color="#a3a3a3"/><stop offset="0.414" stop-color="#8f8f8f"/><stop offset="0.497" stop-color="#878787"/><stop offset="0.580" stop-color="#808080"/><stop offset="0.663" stop-color="#707070"/><stop offset="0.735" stop-color="#585858"/><stop offset="0.746" stop-color="#525252"/><stop offset="0.829" stop-color="#282828"/><stop offset="0.912" stop-color="#0a0a0a"/><stop offset="1.000" stop-color="#000000"/></linearGradient><linearGradient id="p4c39" x1="0" y1="0" x2="0" y2="1"><stop offset="0.000" stop-color="#ffffff"/><stop offset="0.083" stop-color="#f4f4f4"/><stop offset="0.166" stop-color="#e3e3e3"/><stop offset="0.249" stop-color="#bfbfbf"/><stop offset="0.331" stop-color="#a3a3a3"/><stop offset="0.414" stop-color="#8f8f8f"/><stop offset="0.497" stop-color="#878787"/><stop offset="0.580" stop-color="#808080"/><stop offset="0.663" stop-color="#707070"/><stop offset="0.735" stop-color="#585858"/><stop offset="0.746" stop-color="#525252"/><stop offset="0.829" stop-color="#282828"/><stop offset="0.912" stop-color="#0a0a0a"/><stop offset="1.000" stop-color="#000000"/></linearGradient><linearGradient id="p4c40" x1="0" y1="0" x2="0" y2="1"><stop offset="0.000" stop-color="#ffffff"/><stop offset="0.083" stop-color="#f4f4f4"/><stop offset="0.166" stop-color="#e3e3e3"/><stop offset="0.249" stop-color="#bfbfbf"/><stop offset="0.331" stop-color="#a3a3a3"/><stop offset="0.414" stop-color="#8f8f8f"/><stop offset="0.497" stop-color="#878787"/><stop offset="0.580" stop-color="#808080"/><stop offset="0.663" stop-color="#707070"/><stop offset="0.735" stop-color="#585858"/><stop offset="0.746" stop-color="#525252"/><stop offset="0.829" stop-color="#282828"/><stop offset="0.912" stop-color="#0a0a0a"/><stop offset="1.000" stop-color="#000000"/></linearGradient>
<filter id="p4f" x="-5%" y="-5%" width="110%" height="110%" color-interpolation-filters="sRGB">
<feGaussianBlur stdDeviation="10 0"/>
<feComponentTransfer><feFuncR type="table" tableValues="0 0.5 1"/><feFuncG type="table" tableValues="0 0.5 1"/><feFuncB type="table" tableValues="1 0.5 0"/></feComponentTransfer>
</filter></defs>
<g filter="url(#p4f)"><rect x="-40" y="0" width="20.5" height="181" fill="url(#p4c0)"/><rect x="-20" y="0" width="20.5" height="181" fill="url(#p4c1)"/><rect x="0" y="0" width="20.5" height="181" fill="url(#p4c2)"/><rect x="20" y="0" width="20.5" height="181" fill="url(#p4c3)"/><rect x="40" y="0" width="20.5" height="181" fill="url(#p4c4)"/><rect x="60" y="0" width="20.5" height="181" fill="url(#p4c5)"/><rect x="80" y="0" width="20.5" height="181" fill="url(#p4c6)"/><rect x="100" y="0" width="20.5" height="181" fill="url(#p4c7)"/><rect x="120" y="0" width="20.5" height="181" fill="url(#p4c8)"/><rect x="140" y="0" width="20.5" height="181" fill="url(#p4c9)"/><rect x="160" y="0" width="20.5" height="181" fill="url(#p4c10)"/><rect x="180" y="0" width="20.5" height="181" fill="url(#p4c11)"/><rect x="200" y="0" width="20.5" height="181" fill="url(#p4c12)"/><rect x="220" y="0" width="20.5" height="181" fill="url(#p4c13)"/><rect x="240" y="0" width="20.5" height="181" fill="url(#p4c14)"/><rect x="260" y="0" width="20.5" height="181" fill="url(#p4c15)"/><rect x="280" y="0" width="20.5" height="181" fill="url(#p4c16)"/><rect x="300" y="0" width="20.5" height="181" fill="url(#p4c17)"/><rect x="320" y="0" width="20.5" height="181" fill="url(#p4c18)"/><rect x="340" y="0" width="20.5" height="181" fill="url(#p4c19)"/><rect x="360" y="0" width="20.5" height="181" fill="url(#p4c20)"/><rect x="380" y="0" width="20.5" height="181" fill="url(#p4c21)"/><rect x="400" y="0" width="20.5" height="181" fill="url(#p4c22)"/><rect x="420" y="0" width="20.5" height="181" fill="url(#p4c23)"/><rect x="440" y="0" width="20.5" height="181" fill="url(#p4c24)"/><rect x="460" y="0" width="20.5" height="181" fill="url(#p4c25)"/><rect x="480" y="0" width="20.5" height="181" fill="url(#p4c26)"/><rect x="500" y="0" width="20.5" height="181" fill="url(#p4c27)"/><rect x="520" y="0" width="20.5" height="181" fill="url(#p4c28)"/><rect x="540" y="0" width="20.5" height="181" fill="url(#p4c29)"/><rect x="560" y="0" width="20.5" height="181" fill="url(#p4c30)"/><rect x="580" y="0" width="20.5" height="181" fill="url(#p4c31)"/><rect x="600" y="0" width="20.5" height="181" fill="url(#p4c32)"/><rect x="620" y="0" width="20.5" height="181" fill="url(#p4c33)"/><rect x="640" y="0" width="20.5" height="181" fill="url(#p4c34)"/><rect x="660" y="0" width="20.5" height="181" fill="url(#p4c35)"/><rect x="680" y="0" width="20.5" height="181" fill="url(#p4c36)"/><rect x="700" y="0" width="20.5" height="181" fill="url(#p4c37)"/><rect x="720" y="0" width="20.5" height="181" fill="url(#p4c38)"/><rect x="740" y="0" width="20.5" height="181" fill="url(#p4c39)"/><rect x="760" y="0" width="20.5" height="181" fill="url(#p4c40)"/></g>
<path d="M0.0,131.8 L6.0,131.4 L12.0,130.9 L18.0,130.5 L24.0,130.0 L30.0,128.7 L36.0,127.5 L42.0,126.2 L48.0,124.9 L54.0,122.8 L60.0,120.8 L66.0,118.7 L72.0,115.7 L78.0,112.5 L84.0,106.5 L90.0,100.4 L96.0,94.1 L102.0,89.7 L108.0,86.4 L114.0,83.9 L120.0,81.9 L126.0,80.6 L132.0,79.3 L138.0,78.3 L144.0,77.6 L150.0,76.9 L156.0,76.2 L162.0,75.6 L168.0,75.0 L174.0,74.3 L180.0,73.7 L186.0,73.6 L192.0,73.6 L198.0,73.6 L204.0,73.6 L210.0,73.6 L216.0,73.8 L222.0,74.0 L228.0,74.3 L234.0,74.5 L240.0,74.9 L246.0,75.2 L252.0,75.6 L258.0,75.9 L264.0,76.3 L270.0,76.6 L276.0,76.7 L282.0,76.8 L288.0,77.0 L294.0,77.1 L300.0,77.3 L306.0,77.6 L312.0,77.9 L318.0,78.2 L324.0,78.5 L330.0,79.0 L336.0,79.8 L342.0,80.7 L348.0,81.5 L354.0,82.3 L360.0,83.3 L366.0,84.9 L372.0,86.5 L378.0,88.1 L384.0,90.5 L390.0,92.8 L396.0,95.2 L402.0,97.3 L408.0,99.1 L414.0,100.8 L420.0,102.6 L426.0,104.7 L432.0,107.1 L438.0,109.5 L444.0,111.9 L450.0,114.1 L456.0,116.3 L462.0,118.4 L468.0,120.5 L474.0,122.0 L480.0,123.3 L486.0,124.6 L492.0,125.6 L498.0,126.7 L504.0,127.7 L510.0,128.7 L516.0,129.4 L522.0,129.6 L528.0,129.9 L534.0,130.2 L540.0,130.5 L546.0,130.5 L552.0,130.4 L558.0,130.4 L564.0,130.3 L570.0,130.3 L576.0,130.2 L582.0,130.2 L588.0,130.1 L594.0,130.1 L600.0,130.0 L606.0,130.0 L612.0,130.1 L618.0,130.2 L624.0,130.2 L630.0,130.3 L636.0,130.4 L642.0,130.5 L648.0,130.6 L654.0,130.9 L660.0,131.2 L666.0,131.5 L672.0,131.8 L678.0,131.9 L684.0,132.0 L690.0,132.1 L696.0,132.2 L702.0,132.3 L708.0,132.4 L714.0,132.5 L720.0,132.6 L726.0,132.6" fill="none" stroke="#000" stroke-width="2.2" stroke-linejoin="round"/>
</svg>
<text x="208.8" y="45.7" font-size="27.2" text-anchor="start" textLength="509.5" lengthAdjust="spacing" >Kislovodsk Mountain Astronomical Station</text>
<text x="19.2" y="1211.8" font-size="20" text-anchor="start" textLength="184.3" lengthAdjust="spacing" xml:space="preserve">Created&#160;&#160;2016.09.16</text>
<rect x="78" y="100" width="2" height="182" fill="#000"/>
<rect x="79" y="99" width="724" height="1" fill="#000"/>
<rect x="801" y="99" width="2" height="183" fill="#000"/>
<rect x="78" y="281" width="725" height="1" fill="#000"/>
<text x="84.6" y="86.8" font-size="16" text-anchor="middle" >0</text>
<rect x="140" y="95" width="1" height="4" fill="#000"/>
<text x="144.525" y="86.8" font-size="16" text-anchor="middle" >30</text>
<rect x="200" y="95" width="1" height="4" fill="#000"/>
<text x="204.45" y="86.8" font-size="16" text-anchor="middle" >60</text>
<rect x="260" y="95" width="1" height="4" fill="#000"/>
<text x="264.375" y="86.8" font-size="16" text-anchor="middle" >90</text>
<rect x="320" y="95" width="1" height="4" fill="#000"/>
<text x="324.3" y="86.8" font-size="16" text-anchor="middle" >120</text>
<rect x="380" y="95" width="1" height="4" fill="#000"/>
<text x="384.225" y="86.8" font-size="16" text-anchor="middle" >150</text>
<rect x="440" y="95" width="1" height="4" fill="#000"/>
<text x="444.15" y="86.8" font-size="16" text-anchor="middle" >180</text>
<rect x="501" y="95" width="1" height="4" fill="#000"/>
<text x="504.07500000000005" y="86.8" font-size="16" text-anchor="middle" >210</text>
<rect x="561" y="95" width="1" height="4" fill="#000"/>
<text x="564.0" y="86.8" font-size="16" text-anchor="middle" >240</text>
<rect x="621" y="95" width="1" height="4" fill="#000"/>
<text x="623.9250000000001" y="86.8" font-size="16" text-anchor="middle" >270</text>
<rect x="681" y="95" width="1" height="4" fill="#000"/>
<text x="683.85" y="86.8" font-size="16" text-anchor="middle" >300</text>
<rect x="741" y="95" width="1" height="4" fill="#000"/>
<text x="743.7750000000001" y="86.8" font-size="16" text-anchor="middle" >330</text>
<text x="803.7" y="86.8" font-size="16" text-anchor="middle" >360</text>
<text x="64.0" y="110.1" font-size="16" text-anchor="middle" >90</text>
<text x="824.0" y="110.1" font-size="16" text-anchor="middle" >90</text>
<rect x="75" y="130" width="3" height="1" fill="#000"/>
<rect x="803" y="130" width="2" height="1" fill="#000"/>
<text x="64.0" y="140.13" font-size="16" text-anchor="middle" >60</text>
<text x="824.0" y="140.13" font-size="16" text-anchor="middle" >60</text>
<rect x="75" y="160" width="3" height="1" fill="#000"/>
<rect x="803" y="160" width="2" height="1" fill="#000"/>
<text x="64.0" y="170.16" font-size="16" text-anchor="middle" >30</text>
<text x="824.0" y="170.16" font-size="16" text-anchor="middle" >30</text>
<text x="64.0" y="200.19" font-size="16" text-anchor="middle" >0</text>
<text x="824.0" y="200.19" font-size="16" text-anchor="middle" >0</text>
<rect x="75" y="221" width="3" height="1" fill="#000"/>
<rect x="803" y="221" width="2" height="1" fill="#000"/>
<text x="62.0" y="230.22" font-size="16" text-anchor="middle" textLength="25.4" lengthAdjust="spacing" >-30</text>
<text x="822.3" y="230.22" font-size="16" text-anchor="middle" textLength="25.4" lengthAdjust="spacing" >-30</text>
<rect x="75" y="251" width="3" height="1" fill="#000"/>
<rect x="803" y="251" width="2" height="1" fill="#000"/>
<text x="62.0" y="260.25" font-size="16" text-anchor="middle" textLength="25.4" lengthAdjust="spacing" >-60</text>
<text x="822.3" y="260.25" font-size="16" text-anchor="middle" textLength="25.4" lengthAdjust="spacing" >-60</text>
<text x="62.0" y="290.28" font-size="16" text-anchor="middle" textLength="25.4" lengthAdjust="spacing" >-90</text>
<text x="822.3" y="290.28" font-size="16" text-anchor="middle" textLength="25.4" lengthAdjust="spacing" >-90</text>
<rect x="102" y="282" width="1" height="3" fill="#000"/>
<rect x="128" y="282" width="1" height="3" fill="#000"/>
<rect x="154" y="282" width="1" height="8" fill="#000"/>
<rect x="181" y="282" width="1" height="3" fill="#000"/>
<rect x="207" y="282" width="1" height="3" fill="#000"/>
<rect x="234" y="282" width="1" height="3" fill="#000"/>
<rect x="260" y="282" width="1" height="3" fill="#000"/>
<rect x="286" y="282" width="1" height="8" fill="#000"/>
<rect x="313" y="282" width="1" height="3" fill="#000"/>
<rect x="339" y="282" width="1" height="3" fill="#000"/>
<rect x="365" y="282" width="1" height="3" fill="#000"/>
<rect x="392" y="282" width="1" height="3" fill="#000"/>
<rect x="418" y="282" width="1" height="8" fill="#000"/>
<rect x="445" y="282" width="1" height="3" fill="#000"/>
<rect x="471" y="282" width="1" height="3" fill="#000"/>
<rect x="497" y="282" width="1" height="3" fill="#000"/>
<rect x="524" y="282" width="1" height="3" fill="#000"/>
<rect x="550" y="282" width="1" height="8" fill="#000"/>
<rect x="576" y="282" width="1" height="3" fill="#000"/>
<rect x="603" y="282" width="1" height="3" fill="#000"/>
<rect x="629" y="282" width="1" height="3" fill="#000"/>
<rect x="656" y="282" width="1" height="17" fill="#000"/>
<rect x="682" y="282" width="1" height="3" fill="#000"/>
<rect x="708" y="282" width="1" height="8" fill="#000"/>
<rect x="735" y="282" width="1" height="3" fill="#000"/>
<rect x="761" y="282" width="1" height="3" fill="#000"/>
<rect x="787" y="282" width="1" height="3" fill="#000"/>
<text x="144.76" y="308.3" font-size="16" text-anchor="middle" >20</text>
<text x="276.65999999999997" y="308.3" font-size="16" text-anchor="middle" >15</text>
<text x="408.55999999999995" y="308.3" font-size="16" text-anchor="middle" >10</text>
<text x="540.4599999999999" y="308.3" font-size="16" text-anchor="middle" >5</text>
<text x="698.74" y="308.3" font-size="16" text-anchor="middle" >30</text>
<text x="79.3" y="324.65" font-size="16" text-anchor="start" textLength="30.3" lengthAdjust="spacing" >Sep</text>
<text x="800.0" y="324.55" font-size="16" text-anchor="start" textLength="29.6" lengthAdjust="spacing" >Aug</text>
<text x="439.6" y="329.7" font-size="16" text-anchor="start" >2016</text>
<text x="728.9" y="329.45" font-size="16" text-anchor="start" textLength="58.6" lengthAdjust="spacing" >Nr:2181</text>
<rect x="78" y="360" width="2" height="182" fill="#000"/>
<rect x="79" y="359" width="724" height="1" fill="#000"/>
<rect x="801" y="359" width="2" height="183" fill="#000"/>
<rect x="78" y="541" width="725" height="1" fill="#000"/>
<text x="84.6" y="346.8" font-size="16" text-anchor="middle" >0</text>
<rect x="140" y="355" width="1" height="4" fill="#000"/>
<text x="144.525" y="346.8" font-size="16" text-anchor="middle" >30</text>
<rect x="200" y="355" width="1" height="4" fill="#000"/>
<text x="204.45" y="346.8" font-size="16" text-anchor="middle" >60</text>
<rect x="260" y="355" width="1" height="4" fill="#000"/>
<text x="264.375" y="346.8" font-size="16" text-anchor="middle" >90</text>
<rect x="320" y="355" width="1" height="4" fill="#000"/>
<text x="324.3" y="346.8" font-size="16" text-anchor="middle" >120</text>
<rect x="380" y="355" width="1" height="4" fill="#000"/>
<text x="384.225" y="346.8" font-size="16" text-anchor="middle" >150</text>
<rect x="440" y="355" width="1" height="4" fill="#000"/>
<text x="444.15" y="346.8" font-size="16" text-anchor="middle" >180</text>
<rect x="501" y="355" width="1" height="4" fill="#000"/>
<text x="504.07500000000005" y="346.8" font-size="16" text-anchor="middle" >210</text>
<rect x="561" y="355" width="1" height="4" fill="#000"/>
<text x="564.0" y="346.8" font-size="16" text-anchor="middle" >240</text>
<rect x="621" y="355" width="1" height="4" fill="#000"/>
<text x="623.9250000000001" y="346.8" font-size="16" text-anchor="middle" >270</text>
<rect x="681" y="355" width="1" height="4" fill="#000"/>
<text x="683.85" y="346.8" font-size="16" text-anchor="middle" >300</text>
<rect x="741" y="355" width="1" height="4" fill="#000"/>
<text x="743.7750000000001" y="346.8" font-size="16" text-anchor="middle" >330</text>
<text x="803.7" y="346.8" font-size="16" text-anchor="middle" >360</text>
<text x="64.0" y="370.1" font-size="16" text-anchor="middle" >90</text>
<text x="824.0" y="370.1" font-size="16" text-anchor="middle" >90</text>
<rect x="75" y="390" width="3" height="1" fill="#000"/>
<rect x="803" y="390" width="2" height="1" fill="#000"/>
<text x="64.0" y="400.13" font-size="16" text-anchor="middle" >60</text>
<text x="824.0" y="400.13" font-size="16" text-anchor="middle" >60</text>
<rect x="75" y="420" width="3" height="1" fill="#000"/>
<rect x="803" y="420" width="2" height="1" fill="#000"/>
<text x="64.0" y="430.16" font-size="16" text-anchor="middle" >30</text>
<text x="824.0" y="430.16" font-size="16" text-anchor="middle" >30</text>
<text x="64.0" y="460.19000000000005" font-size="16" text-anchor="middle" >0</text>
<text x="824.0" y="460.19000000000005" font-size="16" text-anchor="middle" >0</text>
<rect x="75" y="481" width="3" height="1" fill="#000"/>
<rect x="803" y="481" width="2" height="1" fill="#000"/>
<text x="62.0" y="490.22" font-size="16" text-anchor="middle" textLength="25.4" lengthAdjust="spacing" >-30</text>
<text x="822.3" y="490.22" font-size="16" text-anchor="middle" textLength="25.4" lengthAdjust="spacing" >-30</text>
<rect x="75" y="511" width="3" height="1" fill="#000"/>
<rect x="803" y="511" width="2" height="1" fill="#000"/>
<text x="62.0" y="520.25" font-size="16" text-anchor="middle" textLength="25.4" lengthAdjust="spacing" >-60</text>
<text x="822.3" y="520.25" font-size="16" text-anchor="middle" textLength="25.4" lengthAdjust="spacing" >-60</text>
<text x="62.0" y="550.28" font-size="16" text-anchor="middle" textLength="25.4" lengthAdjust="spacing" >-90</text>
<text x="822.3" y="550.28" font-size="16" text-anchor="middle" textLength="25.4" lengthAdjust="spacing" >-90</text>
<rect x="102" y="542" width="1" height="3" fill="#000"/>
<rect x="128" y="542" width="1" height="3" fill="#000"/>
<rect x="154" y="542" width="1" height="8" fill="#000"/>
<rect x="181" y="542" width="1" height="3" fill="#000"/>
<rect x="207" y="542" width="1" height="3" fill="#000"/>
<rect x="234" y="542" width="1" height="3" fill="#000"/>
<rect x="260" y="542" width="1" height="3" fill="#000"/>
<rect x="286" y="542" width="1" height="8" fill="#000"/>
<rect x="313" y="542" width="1" height="3" fill="#000"/>
<rect x="339" y="542" width="1" height="3" fill="#000"/>
<rect x="365" y="542" width="1" height="3" fill="#000"/>
<rect x="392" y="542" width="1" height="3" fill="#000"/>
<rect x="418" y="542" width="1" height="8" fill="#000"/>
<rect x="445" y="542" width="1" height="3" fill="#000"/>
<rect x="471" y="542" width="1" height="3" fill="#000"/>
<rect x="497" y="542" width="1" height="3" fill="#000"/>
<rect x="524" y="542" width="1" height="3" fill="#000"/>
<rect x="550" y="542" width="1" height="8" fill="#000"/>
<rect x="576" y="542" width="1" height="3" fill="#000"/>
<rect x="603" y="542" width="1" height="3" fill="#000"/>
<rect x="629" y="542" width="1" height="3" fill="#000"/>
<rect x="656" y="542" width="1" height="17" fill="#000"/>
<rect x="682" y="542" width="1" height="3" fill="#000"/>
<rect x="708" y="542" width="1" height="8" fill="#000"/>
<rect x="735" y="542" width="1" height="3" fill="#000"/>
<rect x="761" y="542" width="1" height="3" fill="#000"/>
<rect x="787" y="542" width="1" height="3" fill="#000"/>
<text x="144.76" y="568.3" font-size="16" text-anchor="middle" >20</text>
<text x="276.65999999999997" y="568.3" font-size="16" text-anchor="middle" >15</text>
<text x="408.55999999999995" y="568.3" font-size="16" text-anchor="middle" >10</text>
<text x="540.4599999999999" y="568.3" font-size="16" text-anchor="middle" >5</text>
<text x="698.74" y="568.3" font-size="16" text-anchor="middle" >30</text>
<rect x="78" y="620" width="2" height="182" fill="#000"/>
<rect x="79" y="619" width="724" height="1" fill="#000"/>
<rect x="801" y="619" width="2" height="183" fill="#000"/>
<rect x="78" y="801" width="725" height="1" fill="#000"/>
<text x="84.6" y="606.8" font-size="16" text-anchor="middle" >0</text>
<rect x="140" y="615" width="1" height="4" fill="#000"/>
<text x="144.525" y="606.8" font-size="16" text-anchor="middle" >30</text>
<rect x="200" y="615" width="1" height="4" fill="#000"/>
<text x="204.45" y="606.8" font-size="16" text-anchor="middle" >60</text>
<rect x="260" y="615" width="1" height="4" fill="#000"/>
<text x="264.375" y="606.8" font-size="16" text-anchor="middle" >90</text>
<rect x="320" y="615" width="1" height="4" fill="#000"/>
<text x="324.3" y="606.8" font-size="16" text-anchor="middle" >120</text>
<rect x="380" y="615" width="1" height="4" fill="#000"/>
<text x="384.225" y="606.8" font-size="16" text-anchor="middle" >150</text>
<rect x="440" y="615" width="1" height="4" fill="#000"/>
<text x="444.15" y="606.8" font-size="16" text-anchor="middle" >180</text>
<rect x="501" y="615" width="1" height="4" fill="#000"/>
<text x="504.07500000000005" y="606.8" font-size="16" text-anchor="middle" >210</text>
<rect x="561" y="615" width="1" height="4" fill="#000"/>
<text x="564.0" y="606.8" font-size="16" text-anchor="middle" >240</text>
<rect x="621" y="615" width="1" height="4" fill="#000"/>
<text x="623.9250000000001" y="606.8" font-size="16" text-anchor="middle" >270</text>
<rect x="681" y="615" width="1" height="4" fill="#000"/>
<text x="683.85" y="606.8" font-size="16" text-anchor="middle" >300</text>
<rect x="741" y="615" width="1" height="4" fill="#000"/>
<text x="743.7750000000001" y="606.8" font-size="16" text-anchor="middle" >330</text>
<text x="803.7" y="606.8" font-size="16" text-anchor="middle" >360</text>
<text x="64.0" y="630.1" font-size="16" text-anchor="middle" >90</text>
<text x="824.0" y="630.1" font-size="16" text-anchor="middle" >90</text>
<rect x="75" y="650" width="3" height="1" fill="#000"/>
<rect x="803" y="650" width="2" height="1" fill="#000"/>
<text x="64.0" y="660.13" font-size="16" text-anchor="middle" >60</text>
<text x="824.0" y="660.13" font-size="16" text-anchor="middle" >60</text>
<rect x="75" y="680" width="3" height="1" fill="#000"/>
<rect x="803" y="680" width="2" height="1" fill="#000"/>
<text x="64.0" y="690.1600000000001" font-size="16" text-anchor="middle" >30</text>
<text x="824.0" y="690.1600000000001" font-size="16" text-anchor="middle" >30</text>
<text x="64.0" y="720.19" font-size="16" text-anchor="middle" >0</text>
<text x="824.0" y="720.19" font-size="16" text-anchor="middle" >0</text>
<rect x="75" y="741" width="3" height="1" fill="#000"/>
<rect x="803" y="741" width="2" height="1" fill="#000"/>
<text x="62.0" y="750.22" font-size="16" text-anchor="middle" textLength="25.4" lengthAdjust="spacing" >-30</text>
<text x="822.3" y="750.22" font-size="16" text-anchor="middle" textLength="25.4" lengthAdjust="spacing" >-30</text>
<rect x="75" y="771" width="3" height="1" fill="#000"/>
<rect x="803" y="771" width="2" height="1" fill="#000"/>
<text x="62.0" y="780.25" font-size="16" text-anchor="middle" textLength="25.4" lengthAdjust="spacing" >-60</text>
<text x="822.3" y="780.25" font-size="16" text-anchor="middle" textLength="25.4" lengthAdjust="spacing" >-60</text>
<text x="62.0" y="810.28" font-size="16" text-anchor="middle" textLength="25.4" lengthAdjust="spacing" >-90</text>
<text x="822.3" y="810.28" font-size="16" text-anchor="middle" textLength="25.4" lengthAdjust="spacing" >-90</text>
<rect x="102" y="802" width="1" height="3" fill="#000"/>
<rect x="128" y="802" width="1" height="3" fill="#000"/>
<rect x="154" y="802" width="1" height="8" fill="#000"/>
<rect x="181" y="802" width="1" height="3" fill="#000"/>
<rect x="207" y="802" width="1" height="3" fill="#000"/>
<rect x="234" y="802" width="1" height="3" fill="#000"/>
<rect x="260" y="802" width="1" height="3" fill="#000"/>
<rect x="286" y="802" width="1" height="8" fill="#000"/>
<rect x="313" y="802" width="1" height="3" fill="#000"/>
<rect x="339" y="802" width="1" height="3" fill="#000"/>
<rect x="365" y="802" width="1" height="3" fill="#000"/>
<rect x="392" y="802" width="1" height="3" fill="#000"/>
<rect x="418" y="802" width="1" height="8" fill="#000"/>
<rect x="445" y="802" width="1" height="3" fill="#000"/>
<rect x="471" y="802" width="1" height="3" fill="#000"/>
<rect x="497" y="802" width="1" height="3" fill="#000"/>
<rect x="524" y="802" width="1" height="3" fill="#000"/>
<rect x="550" y="802" width="1" height="8" fill="#000"/>
<rect x="576" y="802" width="1" height="3" fill="#000"/>
<rect x="603" y="802" width="1" height="3" fill="#000"/>
<rect x="629" y="802" width="1" height="3" fill="#000"/>
<rect x="656" y="802" width="1" height="17" fill="#000"/>
<rect x="682" y="802" width="1" height="3" fill="#000"/>
<rect x="708" y="802" width="1" height="8" fill="#000"/>
<rect x="735" y="802" width="1" height="3" fill="#000"/>
<rect x="761" y="802" width="1" height="3" fill="#000"/>
<rect x="787" y="802" width="1" height="3" fill="#000"/>
<text x="144.76" y="828.3" font-size="16" text-anchor="middle" >20</text>
<text x="276.65999999999997" y="828.3" font-size="16" text-anchor="middle" >15</text>
<text x="408.55999999999995" y="828.3" font-size="16" text-anchor="middle" >10</text>
<text x="540.4599999999999" y="828.3" font-size="16" text-anchor="middle" >5</text>
<text x="698.74" y="828.3" font-size="16" text-anchor="middle" >30</text>
<rect x="78" y="880" width="2" height="182" fill="#000"/>
<rect x="79" y="879" width="724" height="1" fill="#000"/>
<rect x="801" y="879" width="2" height="183" fill="#000"/>
<rect x="78" y="1061" width="725" height="1" fill="#000"/>
<text x="84.6" y="866.8" font-size="16" text-anchor="middle" >0</text>
<rect x="140" y="875" width="1" height="4" fill="#000"/>
<text x="144.525" y="866.8" font-size="16" text-anchor="middle" >30</text>
<rect x="200" y="875" width="1" height="4" fill="#000"/>
<text x="204.45" y="866.8" font-size="16" text-anchor="middle" >60</text>
<rect x="260" y="875" width="1" height="4" fill="#000"/>
<text x="264.375" y="866.8" font-size="16" text-anchor="middle" >90</text>
<rect x="320" y="875" width="1" height="4" fill="#000"/>
<text x="324.3" y="866.8" font-size="16" text-anchor="middle" >120</text>
<rect x="380" y="875" width="1" height="4" fill="#000"/>
<text x="384.225" y="866.8" font-size="16" text-anchor="middle" >150</text>
<rect x="440" y="875" width="1" height="4" fill="#000"/>
<text x="444.15" y="866.8" font-size="16" text-anchor="middle" >180</text>
<rect x="501" y="875" width="1" height="4" fill="#000"/>
<text x="504.07500000000005" y="866.8" font-size="16" text-anchor="middle" >210</text>
<rect x="561" y="875" width="1" height="4" fill="#000"/>
<text x="564.0" y="866.8" font-size="16" text-anchor="middle" >240</text>
<rect x="621" y="875" width="1" height="4" fill="#000"/>
<text x="623.9250000000001" y="866.8" font-size="16" text-anchor="middle" >270</text>
<rect x="681" y="875" width="1" height="4" fill="#000"/>
<text x="683.85" y="866.8" font-size="16" text-anchor="middle" >300</text>
<rect x="741" y="875" width="1" height="4" fill="#000"/>
<text x="743.7750000000001" y="866.8" font-size="16" text-anchor="middle" >330</text>
<text x="803.7" y="866.8" font-size="16" text-anchor="middle" >360</text>
<text x="64.0" y="890.1" font-size="16" text-anchor="middle" >90</text>
<text x="824.0" y="890.1" font-size="16" text-anchor="middle" >90</text>
<rect x="75" y="910" width="3" height="1" fill="#000"/>
<rect x="803" y="910" width="2" height="1" fill="#000"/>
<text x="64.0" y="920.13" font-size="16" text-anchor="middle" >60</text>
<text x="824.0" y="920.13" font-size="16" text-anchor="middle" >60</text>
<rect x="75" y="940" width="3" height="1" fill="#000"/>
<rect x="803" y="940" width="2" height="1" fill="#000"/>
<text x="64.0" y="950.1600000000001" font-size="16" text-anchor="middle" >30</text>
<text x="824.0" y="950.1600000000001" font-size="16" text-anchor="middle" >30</text>
<text x="64.0" y="980.19" font-size="16" text-anchor="middle" >0</text>
<text x="824.0" y="980.19" font-size="16" text-anchor="middle" >0</text>
<rect x="75" y="1001" width="3" height="1" fill="#000"/>
<rect x="803" y="1001" width="2" height="1" fill="#000"/>
<text x="62.0" y="1010.22" font-size="16" text-anchor="middle" textLength="25.4" lengthAdjust="spacing" >-30</text>
<text x="822.3" y="1010.22" font-size="16" text-anchor="middle" textLength="25.4" lengthAdjust="spacing" >-30</text>
<rect x="75" y="1031" width="3" height="1" fill="#000"/>
<rect x="803" y="1031" width="2" height="1" fill="#000"/>
<text x="62.0" y="1040.25" font-size="16" text-anchor="middle" textLength="25.4" lengthAdjust="spacing" >-60</text>
<text x="822.3" y="1040.25" font-size="16" text-anchor="middle" textLength="25.4" lengthAdjust="spacing" >-60</text>
<text x="62.0" y="1070.28" font-size="16" text-anchor="middle" textLength="25.4" lengthAdjust="spacing" >-90</text>
<text x="822.3" y="1070.28" font-size="16" text-anchor="middle" textLength="25.4" lengthAdjust="spacing" >-90</text>
<rect x="102" y="1062" width="1" height="3" fill="#000"/>
<rect x="128" y="1062" width="1" height="3" fill="#000"/>
<rect x="154" y="1062" width="1" height="8" fill="#000"/>
<rect x="181" y="1062" width="1" height="3" fill="#000"/>
<rect x="207" y="1062" width="1" height="3" fill="#000"/>
<rect x="234" y="1062" width="1" height="3" fill="#000"/>
<rect x="260" y="1062" width="1" height="3" fill="#000"/>
<rect x="286" y="1062" width="1" height="8" fill="#000"/>
<rect x="313" y="1062" width="1" height="3" fill="#000"/>
<rect x="339" y="1062" width="1" height="3" fill="#000"/>
<rect x="365" y="1062" width="1" height="3" fill="#000"/>
<rect x="392" y="1062" width="1" height="3" fill="#000"/>
<rect x="418" y="1062" width="1" height="8" fill="#000"/>
<rect x="445" y="1062" width="1" height="3" fill="#000"/>
<rect x="471" y="1062" width="1" height="3" fill="#000"/>
<rect x="497" y="1062" width="1" height="3" fill="#000"/>
<rect x="524" y="1062" width="1" height="3" fill="#000"/>
<rect x="550" y="1062" width="1" height="8" fill="#000"/>
<rect x="576" y="1062" width="1" height="3" fill="#000"/>
<rect x="603" y="1062" width="1" height="3" fill="#000"/>
<rect x="629" y="1062" width="1" height="3" fill="#000"/>
<rect x="656" y="1062" width="1" height="17" fill="#000"/>
<rect x="682" y="1062" width="1" height="3" fill="#000"/>
<rect x="708" y="1062" width="1" height="8" fill="#000"/>
<rect x="735" y="1062" width="1" height="3" fill="#000"/>
<rect x="761" y="1062" width="1" height="3" fill="#000"/>
<rect x="787" y="1062" width="1" height="3" fill="#000"/>
<text x="144.76" y="1088.3" font-size="16" text-anchor="middle" >20</text>
<text x="276.65999999999997" y="1088.3" font-size="16" text-anchor="middle" >15</text>
<text x="408.55999999999995" y="1088.3" font-size="16" text-anchor="middle" >10</text>
<text x="540.4599999999999" y="1088.3" font-size="16" text-anchor="middle" >5</text>
<text x="698.74" y="1088.3" font-size="16" text-anchor="middle" >30</text>
<text x="79.3" y="1104.65" font-size="16" text-anchor="start" textLength="30.3" lengthAdjust="spacing" >Sep</text>
<text x="800.0" y="1104.55" font-size="16" text-anchor="start" textLength="29.6" lengthAdjust="spacing" >Aug</text>
<text x="439.6" y="1109.7" font-size="16" text-anchor="start" >2016</text>
<text x="728.9" y="1109.45" font-size="16" text-anchor="start" textLength="58.6" lengthAdjust="spacing" >Nr:2181</text>
<rect x="870" y="99.00" width="20" height="8.92" fill="rgb(255, 0, 0)"/>
<rect x="870" y="107.62" width="20" height="8.92" fill="rgb(255, 19, 19)"/>
<rect x="870" y="116.24" width="20" height="8.92" fill="rgb(255, 38, 38)"/>
<rect x="870" y="124.86" width="20" height="8.92" fill="rgb(255, 57, 57)"/>
<rect x="870" y="133.48" width="20" height="8.92" fill="rgb(255, 76, 76)"/>
<rect x="870" y="142.10" width="20" height="8.92" fill="rgb(255, 94, 94)"/>
<rect x="870" y="150.71" width="20" height="8.92" fill="rgb(255, 113, 113)"/>
<rect x="870" y="159.33" width="20" height="8.92" fill="rgb(255, 132, 132)"/>
<rect x="870" y="167.95" width="20" height="8.92" fill="rgb(255, 151, 151)"/>
<rect x="870" y="176.57" width="20" height="8.92" fill="rgb(255, 170, 170)"/>
<rect x="870" y="185.19" width="20" height="8.92" fill="rgb(216, 216, 216)"/>
<rect x="870" y="193.81" width="20" height="8.92" fill="rgb(170, 170, 255)"/>
<rect x="870" y="202.43" width="20" height="8.92" fill="rgb(151, 151, 255)"/>
<rect x="870" y="211.05" width="20" height="8.92" fill="rgb(132, 132, 255)"/>
<rect x="870" y="219.67" width="20" height="8.92" fill="rgb(113, 113, 255)"/>
<rect x="870" y="228.29" width="20" height="8.92" fill="rgb(94, 94, 255)"/>
<rect x="870" y="236.90" width="20" height="8.92" fill="rgb(76, 76, 255)"/>
<rect x="870" y="245.52" width="20" height="8.92" fill="rgb(57, 57, 255)"/>
<rect x="870" y="254.14" width="20" height="8.92" fill="rgb(38, 38, 255)"/>
<rect x="870" y="262.76" width="20" height="8.92" fill="rgb(19, 19, 255)"/>
<rect x="870" y="271.38" width="20" height="8.92" fill="rgb(0, 0, 255)"/>
<rect x="892" y="280" width="4" height="1" fill="#000"/>
<rect x="892" y="272" width="4" height="1" fill="#000"/>
<rect x="892" y="263" width="4" height="1" fill="#000"/>
<rect x="892" y="255" width="4" height="1" fill="#000"/>
<rect x="892" y="246" width="4" height="1" fill="#000"/>
<rect x="892" y="238" width="4" height="1" fill="#000"/>
<rect x="892" y="229" width="4" height="1" fill="#000"/>
<rect x="892" y="220" width="4" height="1" fill="#000"/>
<rect x="892" y="212" width="4" height="1" fill="#000"/>
<rect x="892" y="203" width="4" height="1" fill="#000"/>
<rect x="892" y="194" width="4" height="1" fill="#000"/>
<rect x="892" y="186" width="4" height="1" fill="#000"/>
<rect x="892" y="177" width="4" height="1" fill="#000"/>
<rect x="892" y="169" width="4" height="1" fill="#000"/>
<rect x="892" y="160" width="4" height="1" fill="#000"/>
<rect x="892" y="152" width="4" height="1" fill="#000"/>
<rect x="892" y="143" width="4" height="1" fill="#000"/>
<rect x="892" y="134" width="4" height="1" fill="#000"/>
<rect x="892" y="126" width="4" height="1" fill="#000"/>
<rect x="892" y="117" width="4" height="1" fill="#000"/>
<rect x="892" y="108" width="4" height="1" fill="#000"/>
<text x="900.5" y="285.2" font-size="13" text-anchor="start" letter-spacing="-0.45">-512</text>
<text x="900.5" y="268.0" font-size="13" text-anchor="start" letter-spacing="-0.45">-128</text>
<text x="900.5" y="250.79999999999998" font-size="13" text-anchor="start" letter-spacing="-0.45">-32</text>
<text x="900.5" y="233.6" font-size="13" text-anchor="start" letter-spacing="-0.45">-8</text>
<text x="900.5" y="216.39999999999998" font-size="13" text-anchor="start" letter-spacing="-0.45">-2</text>
<text x="900.5" y="199.2" font-size="13" text-anchor="start" letter-spacing="-0.45">0</text>
<text x="900.5" y="182.0" font-size="13" text-anchor="start" letter-spacing="-0.45">2</text>
<text x="900.5" y="164.8" font-size="13" text-anchor="start" letter-spacing="-0.45">8</text>
<text x="900.5" y="147.6" font-size="13" text-anchor="start" letter-spacing="-0.45">32</text>
<text x="900.5" y="130.4" font-size="13" text-anchor="start" letter-spacing="-0.45">128</text>
<text x="900.5" y="113.2" font-size="13" text-anchor="start" letter-spacing="-0.45">512</text>
<text x="839.3" y="91.8" font-size="13" text-anchor="start" textLength="121.3" lengthAdjust="spacing" >Photospheric field Br</text>
<text x="949.4" y="202.8" font-size="13" text-anchor="start" textLength="28.2" lengthAdjust="spacing" >B, G</text>
<defs>
<linearGradient id="gv" x1="0" y1="1" x2="0" y2="0">
<stop offset="0" stop-color="#0000ff"/><stop offset="0.1" stop-color="#1a37e6"/><stop offset="0.2" stop-color="#336ecc"/><stop offset="0.3" stop-color="#4daab3"/><stop offset="0.4" stop-color="#66e199"/>
<stop offset="0.5" stop-color="#80ff80"/><stop offset="0.6" stop-color="#99eb66"/><stop offset="0.7" stop-color="#b3c84d"/><stop offset="0.8" stop-color="#cc9b33"/><stop offset="0.9" stop-color="#e65a1a"/><stop offset="1" stop-color="#ff0000"/>
</linearGradient>
<linearGradient id="gb" x1="0" y1="1" x2="0" y2="0">
<stop offset="0" stop-color="#0000ff"/>
<stop offset="0.5" stop-color="#808080"/>
<stop offset="1" stop-color="#ffff00"/>
</linearGradient>
</defs>
<rect x="870" y="360" width="20.5" height="181" fill="url(#gv)"/>
<rect x="892" y="360" width="4" height="1" fill="#000"/>
<text x="900.4" y="370.2" font-size="16" text-anchor="start" >750</text>
<rect x="892" y="396" width="4" height="1" fill="#000"/>
<text x="900.4" y="406.09999999999997" font-size="16" text-anchor="start" >650</text>
<rect x="892" y="432" width="4" height="1" fill="#000"/>
<text x="900.4" y="442.0" font-size="16" text-anchor="start" >550</text>
<rect x="892" y="468" width="4" height="1" fill="#000"/>
<text x="900.4" y="477.9" font-size="16" text-anchor="start" >450</text>
<rect x="892" y="504" width="4" height="1" fill="#000"/>
<text x="900.4" y="513.8000000000001" font-size="16" text-anchor="start" >350</text>
<rect x="892" y="540" width="4" height="1" fill="#000"/>
<text x="900.4" y="549.7" font-size="16" text-anchor="start" >250</text>
<text x="839.3" y="354.6" font-size="16" text-anchor="start" textLength="159" lengthAdjust="spacing" >Derived coronal holes</text>
<text x="949.4" y="464.5" font-size="16" text-anchor="start" textLength="33.6" lengthAdjust="spacing" >km/s</text>
<rect x="870" y="620" width="20.5" height="181" fill="url(#gv)"/>
<rect x="892" y="620" width="4" height="1" fill="#000"/>
<text x="900.4" y="630.2" font-size="16" text-anchor="start" >750</text>
<rect x="892" y="656" width="4" height="1" fill="#000"/>
<text x="900.4" y="666.1" font-size="16" text-anchor="start" >650</text>
<rect x="892" y="692" width="4" height="1" fill="#000"/>
<text x="900.4" y="702.0" font-size="16" text-anchor="start" >550</text>
<rect x="892" y="728" width="4" height="1" fill="#000"/>
<text x="900.4" y="737.9000000000001" font-size="16" text-anchor="start" >450</text>
<rect x="892" y="764" width="4" height="1" fill="#000"/>
<text x="900.4" y="773.8000000000001" font-size="16" text-anchor="start" >350</text>
<rect x="892" y="800" width="4" height="1" fill="#000"/>
<text x="900.4" y="809.7" font-size="16" text-anchor="start" >250</text>
<text x="839.3" y="614.6" font-size="16" text-anchor="start" textLength="126.2" lengthAdjust="spacing" >Solar wind speed</text>
<text x="949.4" y="724.5" font-size="16" text-anchor="start" textLength="56.2" lengthAdjust="spacing" >V, km/s</text>
<rect x="870" y="880" width="20.5" height="181" fill="url(#gb)"/>
<rect x="892" y="916" width="4" height="1" fill="#000"/>
<text x="900.4" y="925.4" font-size="16" text-anchor="start" >0,24</text>
<rect x="892" y="950" width="4" height="1" fill="#000"/>
<text x="900.4" y="959.6999999999999" font-size="16" text-anchor="start" >0,14</text>
<rect x="892" y="988" width="4" height="1" fill="#000"/>
<text x="900.4" y="997.5" font-size="16" text-anchor="start" >0,03</text>
<rect x="892" y="1024" width="4" height="1" fill="#000"/>
<text x="900.4" y="1034.2" font-size="16" text-anchor="start" >-0,08</text>
<rect x="892" y="1060" width="4" height="1" fill="#000"/>
<text x="900.4" y="1069.6" font-size="16" text-anchor="start" >-0,18</text>
<text x="839.3" y="874.6" font-size="16" text-anchor="start" textLength="149.3" lengthAdjust="spacing" >Source surface field</text>
<text x="949.4" y="984.5" font-size="16" text-anchor="start" textLength="39.7" lengthAdjust="spacing" >Br, G</text>
</svg></body></html>
